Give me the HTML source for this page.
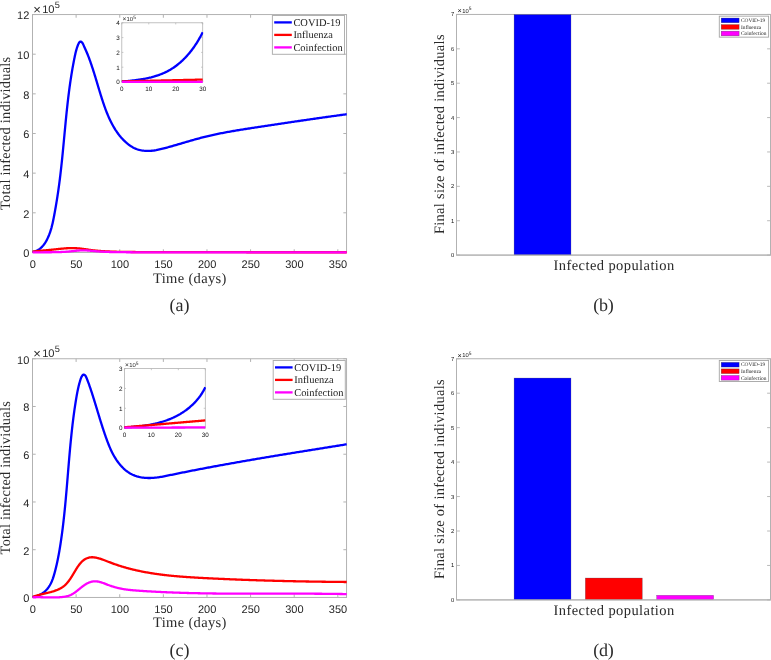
<!DOCTYPE html>
<html lang="en">
<head>
<meta charset="utf-8">
<title>Infected individuals: COVID-19, Influenza, Coinfection</title>
<style>html,body{margin:0;padding:0;background:#fff}body{width:771px;height:660px;overflow:hidden}svg{will-change:transform}svg text{white-space:pre;text-rendering:geometricPrecision}</style>
</head>
<body>
<svg width="771" height="660" viewBox="0 0 771 660" style="display:block">
<rect width="771" height="660" fill="#fff"/>
<rect x="32.5" y="14.55" width="314.05" height="237.9" fill="#fff" stroke="#b2b2b2" stroke-width="1"/>
<line x1="32.5" y1="252.45" x2="32.5" y2="249.25" stroke="#b2b2b2" stroke-width="1"/>
<line x1="32.5" y1="14.55" x2="32.5" y2="17.75" stroke="#b2b2b2" stroke-width="1"/>
<text x="32.7" y="267.75" font-family="'Liberation Sans', 'DejaVu Sans', sans-serif" font-size="11.0" text-anchor="middle" fill="#262626" >0</text>
<line x1="76.12" y1="252.45" x2="76.12" y2="249.25" stroke="#b2b2b2" stroke-width="1"/>
<line x1="76.12" y1="14.55" x2="76.12" y2="17.75" stroke="#b2b2b2" stroke-width="1"/>
<text x="76.32" y="267.75" font-family="'Liberation Sans', 'DejaVu Sans', sans-serif" font-size="11.0" text-anchor="middle" fill="#262626" >50</text>
<line x1="119.74" y1="252.45" x2="119.74" y2="249.25" stroke="#b2b2b2" stroke-width="1"/>
<line x1="119.74" y1="14.55" x2="119.74" y2="17.75" stroke="#b2b2b2" stroke-width="1"/>
<text x="119.94" y="267.75" font-family="'Liberation Sans', 'DejaVu Sans', sans-serif" font-size="11.0" text-anchor="middle" fill="#262626" >100</text>
<line x1="163.35" y1="252.45" x2="163.35" y2="249.25" stroke="#b2b2b2" stroke-width="1"/>
<line x1="163.35" y1="14.55" x2="163.35" y2="17.75" stroke="#b2b2b2" stroke-width="1"/>
<text x="163.55" y="267.75" font-family="'Liberation Sans', 'DejaVu Sans', sans-serif" font-size="11.0" text-anchor="middle" fill="#262626" >150</text>
<line x1="206.97" y1="252.45" x2="206.97" y2="249.25" stroke="#b2b2b2" stroke-width="1"/>
<line x1="206.97" y1="14.55" x2="206.97" y2="17.75" stroke="#b2b2b2" stroke-width="1"/>
<text x="207.17" y="267.75" font-family="'Liberation Sans', 'DejaVu Sans', sans-serif" font-size="11.0" text-anchor="middle" fill="#262626" >200</text>
<line x1="250.59" y1="252.45" x2="250.59" y2="249.25" stroke="#b2b2b2" stroke-width="1"/>
<line x1="250.59" y1="14.55" x2="250.59" y2="17.75" stroke="#b2b2b2" stroke-width="1"/>
<text x="250.79" y="267.75" font-family="'Liberation Sans', 'DejaVu Sans', sans-serif" font-size="11.0" text-anchor="middle" fill="#262626" >250</text>
<line x1="294.21" y1="252.45" x2="294.21" y2="249.25" stroke="#b2b2b2" stroke-width="1"/>
<line x1="294.21" y1="14.55" x2="294.21" y2="17.75" stroke="#b2b2b2" stroke-width="1"/>
<text x="294.41" y="267.75" font-family="'Liberation Sans', 'DejaVu Sans', sans-serif" font-size="11.0" text-anchor="middle" fill="#262626" >300</text>
<line x1="337.83" y1="252.45" x2="337.83" y2="249.25" stroke="#b2b2b2" stroke-width="1"/>
<line x1="337.83" y1="14.55" x2="337.83" y2="17.75" stroke="#b2b2b2" stroke-width="1"/>
<text x="338.03" y="267.75" font-family="'Liberation Sans', 'DejaVu Sans', sans-serif" font-size="11.0" text-anchor="middle" fill="#262626" >350</text>
<line x1="32.5" y1="252.45" x2="35.7" y2="252.45" stroke="#b2b2b2" stroke-width="1"/>
<line x1="346.55" y1="252.45" x2="343.35" y2="252.45" stroke="#b2b2b2" stroke-width="1"/>
<text x="29.3" y="257.35" font-family="'Liberation Sans', 'DejaVu Sans', sans-serif" font-size="11.0" text-anchor="end" fill="#262626" >0</text>
<line x1="32.5" y1="212.8" x2="35.7" y2="212.8" stroke="#b2b2b2" stroke-width="1"/>
<line x1="346.55" y1="212.8" x2="343.35" y2="212.8" stroke="#b2b2b2" stroke-width="1"/>
<text x="29.3" y="217.7" font-family="'Liberation Sans', 'DejaVu Sans', sans-serif" font-size="11.0" text-anchor="end" fill="#262626" >2</text>
<line x1="32.5" y1="173.15" x2="35.7" y2="173.15" stroke="#b2b2b2" stroke-width="1"/>
<line x1="346.55" y1="173.15" x2="343.35" y2="173.15" stroke="#b2b2b2" stroke-width="1"/>
<text x="29.3" y="178.05" font-family="'Liberation Sans', 'DejaVu Sans', sans-serif" font-size="11.0" text-anchor="end" fill="#262626" >4</text>
<line x1="32.5" y1="133.5" x2="35.7" y2="133.5" stroke="#b2b2b2" stroke-width="1"/>
<line x1="346.55" y1="133.5" x2="343.35" y2="133.5" stroke="#b2b2b2" stroke-width="1"/>
<text x="29.3" y="138.4" font-family="'Liberation Sans', 'DejaVu Sans', sans-serif" font-size="11.0" text-anchor="end" fill="#262626" >6</text>
<line x1="32.5" y1="93.85" x2="35.7" y2="93.85" stroke="#b2b2b2" stroke-width="1"/>
<line x1="346.55" y1="93.85" x2="343.35" y2="93.85" stroke="#b2b2b2" stroke-width="1"/>
<text x="29.3" y="98.75" font-family="'Liberation Sans', 'DejaVu Sans', sans-serif" font-size="11.0" text-anchor="end" fill="#262626" >8</text>
<line x1="32.5" y1="54.2" x2="35.7" y2="54.2" stroke="#b2b2b2" stroke-width="1"/>
<line x1="346.55" y1="54.2" x2="343.35" y2="54.2" stroke="#b2b2b2" stroke-width="1"/>
<text x="29.3" y="59.1" font-family="'Liberation Sans', 'DejaVu Sans', sans-serif" font-size="11.0" text-anchor="end" fill="#262626" >10</text>
<line x1="32.5" y1="14.55" x2="35.7" y2="14.55" stroke="#b2b2b2" stroke-width="1"/>
<line x1="346.55" y1="14.55" x2="343.35" y2="14.55" stroke="#b2b2b2" stroke-width="1"/>
<text x="29.3" y="19.45" font-family="'Liberation Sans', 'DejaVu Sans', sans-serif" font-size="11.0" text-anchor="end" fill="#262626" >12</text>
<text x="33.3" y="12.55" font-family="'Liberation Sans', 'DejaVu Sans', sans-serif" font-size="11.1" fill="#262626"><tspan font-size="13" dy="1.0">×</tspan><tspan dx="1.3" dy="-1.0">10</tspan><tspan dy="-4.9" dx="0.3" font-size="9.2">5</tspan></text>
<clipPath id="clipa"><rect x="31.5" y="14.55" width="315.65" height="239.9"/></clipPath>
<g clip-path="url(#clipa)" fill="none" stroke-width="2.3" stroke-linejoin="round" stroke-linecap="butt">
<path d="M32.6 251.9 L33.76 251.68 L34.87 251.38 L35.94 251.01 L36.96 250.56 L37.93 250.04 L38.87 249.47 L39.76 248.83 L40.61 248.14 L41.43 247.4 L42.2 246.61 L42.94 245.77 L43.65 244.9 L44.32 244 L44.96 243.06 L45.57 242.1 L46.15 241.12 L46.7 240.12 L47.23 239.1 L47.73 238.08 L48.2 237.04 L48.65 236 L49.08 234.96 L49.48 233.91 L49.87 232.85 L50.24 231.79 L50.59 230.72 L50.92 229.65 L51.23 228.57 L51.54 227.49 L51.82 226.4 L52.1 225.32 L52.36 224.23 L52.61 223.13 L52.86 222.04 L53.09 220.94 L53.32 219.84 L53.54 218.74 L53.76 217.63 L53.97 216.53 L54.18 215.43 L54.39 214.32 L54.59 213.22 L54.79 212.12 L54.99 211.01 L55.19 209.91 L55.39 208.8 L55.58 207.7 L55.77 206.59 L55.96 205.49 L56.15 204.38 L56.34 203.28 L56.52 202.17 L56.7 201.07 L56.88 199.96 L57.05 198.85 L57.23 197.75 L57.4 196.64 L57.57 195.53 L57.74 194.43 L57.9 193.32 L58.07 192.21 L58.23 191.1 L58.39 189.99 L58.54 188.88 L58.7 187.77 L58.85 186.66 L59 185.55 L59.15 184.44 L59.3 183.33 L59.45 182.21 L59.59 181.1 L59.73 179.99 L59.87 178.88 L60.01 177.76 L60.14 176.65 L60.28 175.53 L60.41 174.42 L60.54 173.3 L60.67 172.19 L60.8 171.07 L60.93 169.96 L61.05 168.84 L61.18 167.72 L61.3 166.61 L61.42 165.49 L61.54 164.37 L61.66 163.25 L61.78 162.13 L61.89 161.02 L62.01 159.9 L62.13 158.78 L62.24 157.66 L62.35 156.54 L62.46 155.42 L62.58 154.3 L62.69 153.18 L62.8 152.06 L62.91 150.94 L63.01 149.82 L63.12 148.7 L63.23 147.58 L63.34 146.46 L63.44 145.34 L63.55 144.22 L63.66 143.1 L63.76 141.98 L63.87 140.86 L63.97 139.74 L64.08 138.62 L64.18 137.5 L64.29 136.38 L64.4 135.25 L64.5 134.13 L64.61 133.01 L64.71 131.89 L64.82 130.77 L64.92 129.65 L65.03 128.53 L65.14 127.41 L65.24 126.29 L65.35 125.17 L65.46 124.05 L65.57 122.93 L65.67 121.81 L65.78 120.69 L65.89 119.57 L66.01 118.45 L66.12 117.33 L66.23 116.21 L66.34 115.09 L66.46 113.98 L66.57 112.86 L66.69 111.74 L66.81 110.62 L66.92 109.5 L67.04 108.39 L67.16 107.27 L67.29 106.15 L67.41 105.04 L67.53 103.92 L67.66 102.8 L67.79 101.69 L67.92 100.57 L68.05 99.46 L68.18 98.34 L68.31 97.23 L68.45 96.11 L68.58 95 L68.72 93.89 L68.86 92.78 L69 91.66 L69.15 90.55 L69.29 89.44 L69.44 88.33 L69.59 87.22 L69.74 86.11 L69.9 85 L70.05 83.89 L70.21 82.78 L70.37 81.67 L70.54 80.57 L70.7 79.46 L70.87 78.35 L71.04 77.25 L71.21 76.14 L71.39 75.04 L71.57 73.93 L71.75 72.83 L71.93 71.72 L72.11 70.62 L72.3 69.52 L72.49 68.42 L72.69 67.32 L72.89 66.22 L73.09 65.12 L73.29 64.02 L73.5 62.92 L73.71 61.83 L73.92 60.73 L74.13 59.63 L74.35 58.54 L74.58 57.45 L74.8 56.35 L75.03 55.26 L75.27 54.17 L75.52 53.08 L75.78 51.99 L76.06 50.9 L76.36 49.82 L76.67 48.73 L77.01 47.65 L77.38 46.57 L77.78 45.49 L78.21 44.42 L78.69 43.37 L79.29 42.44 L80.11 41.73 L81.11 41.68 L81.98 42.35 L82.63 43.27 L83.16 44.32 L83.65 45.37 L84.12 46.4 L84.59 47.42 L85.04 48.42 L85.49 49.42 L85.93 50.43 L86.37 51.44 L86.8 52.46 L87.23 53.5 L87.65 54.54 L88.06 55.59 L88.47 56.64 L88.87 57.7 L89.27 58.77 L89.66 59.83 L90.05 60.9 L90.43 61.98 L90.81 63.05 L91.18 64.12 L91.55 65.19 L91.91 66.26 L92.26 67.33 L92.61 68.4 L92.96 69.47 L93.3 70.53 L93.64 71.6 L93.98 72.67 L94.31 73.73 L94.64 74.8 L94.97 75.86 L95.29 76.93 L95.62 78 L95.94 79.06 L96.26 80.13 L96.58 81.19 L96.9 82.26 L97.22 83.32 L97.54 84.39 L97.85 85.46 L98.17 86.52 L98.49 87.59 L98.81 88.66 L99.13 89.72 L99.45 90.79 L99.78 91.86 L100.11 92.93 L100.43 94 L100.77 95.07 L101.1 96.14 L101.44 97.22 L101.78 98.29 L102.12 99.36 L102.47 100.44 L102.82 101.52 L103.18 102.59 L103.54 103.67 L103.91 104.74 L104.28 105.81 L104.66 106.88 L105.05 107.95 L105.44 109.02 L105.84 110.09 L106.24 111.15 L106.66 112.21 L107.08 113.26 L107.51 114.31 L107.94 115.36 L108.39 116.4 L108.85 117.44 L109.31 118.47 L109.79 119.5 L110.27 120.52 L110.77 121.53 L111.27 122.54 L111.79 123.54 L112.32 124.53 L112.86 125.51 L113.41 126.49 L113.97 127.45 L114.55 128.41 L115.14 129.36 L115.74 130.3 L116.36 131.22 L116.99 132.14 L117.63 133.05 L118.29 133.94 L118.97 134.83 L119.65 135.7 L120.36 136.56 L121.08 137.41 L121.82 138.24 L122.57 139.06 L123.34 139.87 L124.12 140.66 L124.93 141.44 L125.75 142.2 L126.59 142.94 L127.45 143.66 L128.32 144.36 L129.22 145.03 L130.13 145.68 L131.07 146.29 L132.02 146.87 L133 147.42 L133.99 147.94 L135.01 148.41 L136.05 148.85 L137.1 149.24 L138.18 149.59 L139.28 149.89 L140.39 150.16 L141.51 150.38 L142.65 150.57 L143.79 150.71 L144.93 150.82 L146.07 150.9 L147.22 150.94 L148.35 150.94 L149.48 150.91 L150.61 150.85 L151.73 150.76 L152.84 150.65 L153.95 150.51 L155.05 150.34 L156.15 150.16 L157.25 149.95 L158.34 149.73 L159.43 149.49 L160.52 149.24 L161.6 148.98 L162.68 148.7 L163.76 148.42 L164.84 148.13 L165.92 147.84 L167 147.55 L168.08 147.25 L169.16 146.95 L170.24 146.64 L171.31 146.34 L172.39 146.03 L173.47 145.72 L174.55 145.41 L175.62 145.1 L176.7 144.78 L177.78 144.47 L178.85 144.15 L179.93 143.83 L181.01 143.52 L182.09 143.2 L183.16 142.88 L184.24 142.57 L185.32 142.25 L186.4 141.93 L187.48 141.62 L188.56 141.3 L189.64 140.99 L190.72 140.68 L191.8 140.37 L192.88 140.06 L193.96 139.76 L195.04 139.45 L196.12 139.15 L197.21 138.85 L198.29 138.56 L199.38 138.27 L200.46 137.98 L201.55 137.69 L202.63 137.41 L203.72 137.13 L204.81 136.86 L205.9 136.59 L206.99 136.33 L208.08 136.07 L209.18 135.81 L210.27 135.56 L211.37 135.31 L212.46 135.06 L213.56 134.82 L214.65 134.58 L215.75 134.35 L216.85 134.12 L217.95 133.89 L219.05 133.67 L220.15 133.45 L221.25 133.23 L222.35 133.01 L223.45 132.8 L224.56 132.59 L225.66 132.38 L226.76 132.18 L227.87 131.98 L228.97 131.78 L230.08 131.58 L231.19 131.38 L232.29 131.19 L233.4 131 L234.51 130.81 L235.61 130.62 L236.72 130.44 L237.83 130.25 L238.94 130.07 L240.05 129.89 L241.16 129.71 L242.27 129.53 L243.37 129.36 L244.48 129.18 L245.59 129.01 L246.7 128.83 L247.81 128.66 L248.93 128.49 L250.04 128.32 L251.15 128.15 L252.26 127.98 L253.37 127.81 L254.48 127.64 L255.59 127.47 L256.7 127.3 L257.81 127.13 L258.92 126.96 L260.03 126.79 L261.14 126.62 L262.25 126.45 L263.36 126.29 L264.47 126.12 L265.58 125.95 L266.69 125.78 L267.8 125.61 L268.91 125.45 L270.02 125.28 L271.13 125.11 L272.24 124.94 L273.35 124.78 L274.46 124.61 L275.57 124.44 L276.69 124.28 L277.8 124.11 L278.91 123.94 L280.02 123.78 L281.13 123.61 L282.24 123.45 L283.35 123.28 L284.46 123.12 L285.57 122.95 L286.68 122.79 L287.79 122.62 L288.9 122.46 L290.01 122.29 L291.12 122.13 L292.23 121.97 L293.34 121.8 L294.45 121.64 L295.56 121.48 L296.67 121.31 L297.78 121.15 L298.89 120.99 L300 120.83 L301.11 120.66 L302.22 120.5 L303.33 120.34 L304.45 120.18 L305.56 120.02 L306.67 119.86 L307.78 119.7 L308.89 119.54 L310 119.38 L311.11 119.22 L312.22 119.06 L313.33 118.9 L314.44 118.74 L315.56 118.58 L316.67 118.42 L317.78 118.26 L318.89 118.11 L320 117.95 L321.11 117.79 L322.22 117.63 L323.34 117.48 L324.45 117.32 L325.56 117.16 L326.67 117.01 L327.78 116.85 L328.9 116.7 L330.01 116.54 L331.12 116.39 L332.23 116.23 L333.34 116.08 L334.46 115.92 L335.57 115.77 L336.68 115.62 L337.79 115.46 L338.91 115.31 L340.02 115.16 L341.13 115.01 L342.25 114.85 L343.36 114.7 L344.47 114.55 L345.59 114.4 L346.7 114.25" stroke="#0000ff"/>
<path d="M32.6 251.65 L33.23 251.57 L33.86 251.49 L34.49 251.42 L35.12 251.34 L35.75 251.27 L36.38 251.19 L37.01 251.12 L37.64 251.05 L38.27 250.98 L38.89 250.91 L39.52 250.85 L40.15 250.78 L40.78 250.72 L41.41 250.66 L42.04 250.6 L42.67 250.55 L43.3 250.49 L43.93 250.44 L44.56 250.38 L45.19 250.33 L45.82 250.27 L46.45 250.22 L47.08 250.17 L47.71 250.11 L48.34 250.06 L48.97 250 L49.6 249.94 L50.22 249.88 L50.85 249.82 L51.48 249.75 L52.11 249.68 L52.74 249.62 L53.37 249.55 L54 249.48 L54.63 249.41 L55.26 249.34 L55.89 249.27 L56.52 249.2 L57.15 249.13 L57.78 249.07 L58.41 249 L59.04 248.94 L59.67 248.88 L60.3 248.82 L60.93 248.76 L61.56 248.7 L62.18 248.64 L62.81 248.58 L63.44 248.52 L64.07 248.46 L64.7 248.41 L65.33 248.35 L65.96 248.31 L66.59 248.27 L67.22 248.23 L67.85 248.21 L68.48 248.18 L69.11 248.16 L69.74 248.15 L70.37 248.13 L71 248.11 L71.63 248.11 L72.26 248.1 L72.89 248.1 L73.51 248.11 L74.14 248.13 L74.77 248.16 L75.4 248.19 L76.03 248.22 L76.66 248.26 L77.29 248.3 L77.92 248.34 L78.55 248.39 L79.18 248.45 L79.81 248.51 L80.44 248.59 L81.07 248.66 L81.7 248.75 L82.33 248.84 L82.96 248.92 L83.59 249.01 L84.22 249.1 L84.85 249.18 L85.47 249.26 L86.1 249.34 L86.73 249.43 L87.36 249.51 L87.99 249.6 L88.62 249.69 L89.25 249.78 L89.88 249.87 L90.51 249.95 L91.14 250.04 L91.77 250.12 L92.4 250.2 L93.03 250.28 L93.66 250.36 L94.29 250.43 L94.92 250.49 L95.55 250.55 L96.18 250.61 L96.8 250.68 L97.43 250.73 L98.06 250.79 L98.69 250.85 L99.32 250.9 L99.95 250.96 L100.58 251.01 L101.21 251.06 L101.84 251.1 L102.47 251.15 L103.1 251.19 L103.73 251.23 L104.36 251.27 L104.99 251.3 L105.62 251.33 L106.25 251.36 L106.88 251.39 L107.51 251.43 L108.14 251.46 L108.76 251.49 L109.39 251.51 L110.02 251.54 L110.65 251.57 L111.28 251.6 L111.91 251.62 L112.54 251.65 L113.17 251.67 L113.8 251.69 L114.43 251.72 L115.06 251.74 L115.69 251.76 L116.32 251.77 L116.95 251.79 L117.58 251.8 L118.21 251.82 L118.84 251.83 L119.47 251.84 L120.09 251.85 L120.72 251.86 L121.35 251.87 L121.98 251.88 L122.61 251.89 L123.24 251.89 L123.87 251.9 L124.5 251.91 L125.13 251.92 L125.76 251.92 L126.39 251.93 L127.02 251.94 L127.65 251.95 L128.28 251.95 L128.91 251.96 L129.54 251.97 L130.17 251.97 L130.8 251.98 L131.43 251.99 L132.05 251.99 L132.68 252 L133.31 252.01 L133.94 252.01 L134.57 252.02 L135.2 252.02 L135.83 252.03 L136.46 252.03 L137.09 252.04 L137.72 252.05 L138.35 252.05 L138.98 252.06 L139.61 252.06 L140.24 252.06 L140.87 252.07 L141.5 252.07 L142.13 252.08 L142.76 252.08 L143.38 252.09 L144.01 252.09 L144.64 252.09 L145.27 252.1 L145.9 252.1 L146.53 252.11 L147.16 252.11 L147.79 252.11 L148.42 252.11 L149.05 252.12 L149.68 252.12 L150.31 252.12 L150.94 252.13 L151.57 252.13 L152.2 252.13 L152.83 252.13 L153.46 252.14 L154.09 252.14 L154.72 252.14 L155.34 252.14 L155.97 252.14 L156.6 252.14 L157.23 252.15 L157.86 252.15 L158.49 252.15 L159.12 252.15 L159.75 252.15 L160.38 252.15 L161.01 252.15 L161.64 252.15 L162.27 252.15 L162.9 252.15 L163.53 252.15 L164.16 252.16 L164.79 252.16 L165.42 252.16 L166.05 252.16 L166.67 252.16 L167.3 252.16 L167.93 252.16 L168.56 252.16 L169.19 252.16 L169.82 252.16 L170.45 252.16 L171.08 252.16 L171.71 252.16 L172.34 252.16 L172.97 252.17 L173.6 252.17 L174.23 252.17 L174.86 252.17 L175.49 252.17 L176.12 252.17 L176.75 252.17 L177.38 252.17 L178.01 252.17 L178.63 252.17 L179.26 252.17 L179.89 252.17 L180.52 252.17 L181.15 252.17 L181.78 252.17 L182.41 252.18 L183.04 252.18 L183.67 252.18 L184.3 252.18 L184.93 252.18 L185.56 252.18 L186.19 252.18 L186.82 252.18 L187.45 252.18 L188.08 252.18 L188.71 252.18 L189.34 252.18 L189.96 252.18 L190.59 252.18 L191.22 252.18 L191.85 252.18 L192.48 252.19 L193.11 252.19 L193.74 252.19 L194.37 252.19 L195 252.19 L195.63 252.19 L196.26 252.19 L196.89 252.19 L197.52 252.19 L198.15 252.19 L198.78 252.19 L199.41 252.19 L200.04 252.19 L200.67 252.19 L201.29 252.19 L201.92 252.19 L202.55 252.19 L203.18 252.19 L203.81 252.2 L204.44 252.2 L205.07 252.2 L205.7 252.2 L206.33 252.2 L206.96 252.2 L207.59 252.2 L208.22 252.2 L208.85 252.2 L209.48 252.2 L210.11 252.2 L210.74 252.2 L211.37 252.2 L212 252.2 L212.63 252.2 L213.25 252.2 L213.88 252.2 L214.51 252.2 L215.14 252.2 L215.77 252.21 L216.4 252.21 L217.03 252.21 L217.66 252.21 L218.29 252.21 L218.92 252.21 L219.55 252.21 L220.18 252.21 L220.81 252.21 L221.44 252.21 L222.07 252.21 L222.7 252.21 L223.33 252.21 L223.96 252.21 L224.58 252.21 L225.21 252.21 L225.84 252.21 L226.47 252.21 L227.1 252.21 L227.73 252.21 L228.36 252.21 L228.99 252.21 L229.62 252.22 L230.25 252.22 L230.88 252.22 L231.51 252.22 L232.14 252.22 L232.77 252.22 L233.4 252.22 L234.03 252.22 L234.66 252.22 L235.29 252.22 L235.92 252.22 L236.54 252.22 L237.17 252.22 L237.8 252.22 L238.43 252.22 L239.06 252.22 L239.69 252.22 L240.32 252.22 L240.95 252.22 L241.58 252.22 L242.21 252.22 L242.84 252.22 L243.47 252.22 L244.1 252.22 L244.73 252.22 L245.36 252.22 L245.99 252.22 L246.62 252.23 L247.25 252.23 L247.87 252.23 L248.5 252.23 L249.13 252.23 L249.76 252.23 L250.39 252.23 L251.02 252.23 L251.65 252.23 L252.28 252.23 L252.91 252.23 L253.54 252.23 L254.17 252.23 L254.8 252.23 L255.43 252.23 L256.06 252.23 L256.69 252.23 L257.32 252.23 L257.95 252.23 L258.58 252.23 L259.21 252.23 L259.83 252.23 L260.46 252.23 L261.09 252.23 L261.72 252.23 L262.35 252.23 L262.98 252.23 L263.61 252.23 L264.24 252.23 L264.87 252.23 L265.5 252.23 L266.13 252.23 L266.76 252.23 L267.39 252.24 L268.02 252.24 L268.65 252.24 L269.28 252.24 L269.91 252.24 L270.54 252.24 L271.16 252.24 L271.79 252.24 L272.42 252.24 L273.05 252.24 L273.68 252.24 L274.31 252.24 L274.94 252.24 L275.57 252.24 L276.2 252.24 L276.83 252.24 L277.46 252.24 L278.09 252.24 L278.72 252.24 L279.35 252.24 L279.98 252.24 L280.61 252.24 L281.24 252.24 L281.87 252.24 L282.5 252.24 L283.12 252.24 L283.75 252.24 L284.38 252.24 L285.01 252.24 L285.64 252.24 L286.27 252.24 L286.9 252.24 L287.53 252.24 L288.16 252.24 L288.79 252.24 L289.42 252.24 L290.05 252.24 L290.68 252.24 L291.31 252.24 L291.94 252.24 L292.57 252.24 L293.2 252.24 L293.83 252.24 L294.45 252.24 L295.08 252.24 L295.71 252.24 L296.34 252.24 L296.97 252.24 L297.6 252.24 L298.23 252.24 L298.86 252.24 L299.49 252.25 L300.12 252.25 L300.75 252.25 L301.38 252.25 L302.01 252.25 L302.64 252.25 L303.27 252.25 L303.9 252.25 L304.53 252.25 L305.16 252.25 L305.79 252.25 L306.41 252.25 L307.04 252.25 L307.67 252.25 L308.3 252.25 L308.93 252.25 L309.56 252.25 L310.19 252.25 L310.82 252.25 L311.45 252.25 L312.08 252.25 L312.71 252.25 L313.34 252.25 L313.97 252.25 L314.6 252.25 L315.23 252.25 L315.86 252.25 L316.49 252.25 L317.12 252.25 L317.74 252.25 L318.37 252.25 L319 252.25 L319.63 252.25 L320.26 252.25 L320.89 252.25 L321.52 252.25 L322.15 252.25 L322.78 252.25 L323.41 252.25 L324.04 252.25 L324.67 252.25 L325.3 252.25 L325.93 252.25 L326.56 252.25 L327.19 252.25 L327.82 252.25 L328.45 252.25 L329.08 252.25 L329.7 252.25 L330.33 252.25 L330.96 252.25 L331.59 252.25 L332.22 252.25 L332.85 252.25 L333.48 252.25 L334.11 252.25 L334.74 252.25 L335.37 252.25 L336 252.25 L336.63 252.25 L337.26 252.25 L337.89 252.25 L338.52 252.25 L339.15 252.25 L339.78 252.25 L340.41 252.25 L341.03 252.25 L341.66 252.25 L342.29 252.25 L342.92 252.25 L343.55 252.25 L344.18 252.25 L344.81 252.25 L345.44 252.25 L346.07 252.25 L346.7 252.25" stroke="#ff0000"/>
<path d="M32.6 252.3 L33.23 252.3 L33.86 252.3 L34.49 252.3 L35.12 252.3 L35.75 252.3 L36.38 252.3 L37.01 252.3 L37.64 252.29 L38.27 252.29 L38.89 252.29 L39.52 252.29 L40.15 252.29 L40.78 252.29 L41.41 252.28 L42.04 252.28 L42.67 252.28 L43.3 252.28 L43.93 252.27 L44.56 252.27 L45.19 252.27 L45.82 252.27 L46.45 252.26 L47.08 252.26 L47.71 252.25 L48.34 252.25 L48.97 252.25 L49.6 252.24 L50.22 252.24 L50.85 252.23 L51.48 252.23 L52.11 252.22 L52.74 252.22 L53.37 252.21 L54 252.21 L54.63 252.2 L55.26 252.2 L55.89 252.19 L56.52 252.18 L57.15 252.16 L57.78 252.14 L58.41 252.12 L59.04 252.1 L59.67 252.07 L60.3 252.05 L60.93 252.02 L61.56 251.99 L62.18 251.95 L62.81 251.92 L63.44 251.89 L64.07 251.85 L64.7 251.82 L65.33 251.78 L65.96 251.74 L66.59 251.69 L67.22 251.64 L67.85 251.59 L68.48 251.53 L69.11 251.48 L69.74 251.42 L70.37 251.36 L71 251.29 L71.63 251.23 L72.26 251.18 L72.89 251.11 L73.51 251.05 L74.14 250.98 L74.77 250.91 L75.4 250.84 L76.03 250.78 L76.66 250.71 L77.29 250.66 L77.92 250.61 L78.55 250.56 L79.18 250.51 L79.81 250.46 L80.44 250.41 L81.07 250.37 L81.7 250.33 L82.33 250.31 L82.96 250.3 L83.59 250.3 L84.22 250.32 L84.85 250.34 L85.47 250.38 L86.1 250.41 L86.73 250.46 L87.36 250.5 L87.99 250.55 L88.62 250.6 L89.25 250.65 L89.88 250.69 L90.51 250.74 L91.14 250.79 L91.77 250.84 L92.4 250.9 L93.03 250.96 L93.66 251.02 L94.29 251.08 L94.92 251.14 L95.55 251.2 L96.18 251.26 L96.8 251.31 L97.43 251.36 L98.06 251.4 L98.69 251.44 L99.32 251.49 L99.95 251.53 L100.58 251.57 L101.21 251.61 L101.84 251.64 L102.47 251.68 L103.1 251.72 L103.73 251.75 L104.36 251.79 L104.99 251.82 L105.62 251.85 L106.25 251.88 L106.88 251.91 L107.51 251.93 L108.14 251.95 L108.76 251.97 L109.39 251.99 L110.02 252 L110.65 252.01 L111.28 252.02 L111.91 252.03 L112.54 252.05 L113.17 252.06 L113.8 252.07 L114.43 252.08 L115.06 252.09 L115.69 252.1 L116.32 252.11 L116.95 252.12 L117.58 252.12 L118.21 252.13 L118.84 252.14 L119.47 252.15 L120.09 252.16 L120.72 252.17 L121.35 252.18 L121.98 252.18 L122.61 252.19 L123.24 252.2 L123.87 252.2 L124.5 252.21 L125.13 252.22 L125.76 252.22 L126.39 252.23 L127.02 252.24 L127.65 252.24 L128.28 252.25 L128.91 252.25 L129.54 252.26 L130.17 252.26 L130.8 252.27 L131.43 252.27 L132.05 252.27 L132.68 252.28 L133.31 252.28 L133.94 252.28 L134.57 252.29 L135.2 252.29 L135.83 252.29 L136.46 252.29 L137.09 252.3 L137.72 252.3 L138.35 252.3 L138.98 252.3 L139.61 252.3 L140.24 252.3 L140.87 252.3 L141.5 252.3 L142.13 252.3 L142.76 252.3 L143.38 252.3 L144.01 252.3 L144.64 252.3 L145.27 252.3 L145.9 252.3 L146.53 252.3 L147.16 252.3 L147.79 252.3 L148.42 252.31 L149.05 252.31 L149.68 252.31 L150.31 252.31 L150.94 252.31 L151.57 252.31 L152.2 252.31 L152.83 252.31 L153.46 252.31 L154.09 252.31 L154.72 252.31 L155.34 252.31 L155.97 252.31 L156.6 252.31 L157.23 252.31 L157.86 252.31 L158.49 252.31 L159.12 252.31 L159.75 252.31 L160.38 252.31 L161.01 252.31 L161.64 252.31 L162.27 252.31 L162.9 252.31 L163.53 252.31 L164.16 252.31 L164.79 252.31 L165.42 252.31 L166.05 252.31 L166.67 252.31 L167.3 252.32 L167.93 252.32 L168.56 252.32 L169.19 252.32 L169.82 252.32 L170.45 252.32 L171.08 252.32 L171.71 252.32 L172.34 252.32 L172.97 252.32 L173.6 252.32 L174.23 252.32 L174.86 252.32 L175.49 252.32 L176.12 252.32 L176.75 252.32 L177.38 252.32 L178.01 252.32 L178.63 252.32 L179.26 252.32 L179.89 252.32 L180.52 252.32 L181.15 252.32 L181.78 252.32 L182.41 252.32 L183.04 252.32 L183.67 252.32 L184.3 252.32 L184.93 252.32 L185.56 252.32 L186.19 252.32 L186.82 252.32 L187.45 252.32 L188.08 252.32 L188.71 252.32 L189.34 252.32 L189.96 252.33 L190.59 252.33 L191.22 252.33 L191.85 252.33 L192.48 252.33 L193.11 252.33 L193.74 252.33 L194.37 252.33 L195 252.33 L195.63 252.33 L196.26 252.33 L196.89 252.33 L197.52 252.33 L198.15 252.33 L198.78 252.33 L199.41 252.33 L200.04 252.33 L200.67 252.33 L201.29 252.33 L201.92 252.33 L202.55 252.33 L203.18 252.33 L203.81 252.33 L204.44 252.33 L205.07 252.33 L205.7 252.33 L206.33 252.33 L206.96 252.33 L207.59 252.33 L208.22 252.33 L208.85 252.33 L209.48 252.33 L210.11 252.33 L210.74 252.33 L211.37 252.33 L212 252.33 L212.63 252.33 L213.25 252.33 L213.88 252.33 L214.51 252.33 L215.14 252.33 L215.77 252.33 L216.4 252.33 L217.03 252.33 L217.66 252.33 L218.29 252.33 L218.92 252.33 L219.55 252.34 L220.18 252.34 L220.81 252.34 L221.44 252.34 L222.07 252.34 L222.7 252.34 L223.33 252.34 L223.96 252.34 L224.58 252.34 L225.21 252.34 L225.84 252.34 L226.47 252.34 L227.1 252.34 L227.73 252.34 L228.36 252.34 L228.99 252.34 L229.62 252.34 L230.25 252.34 L230.88 252.34 L231.51 252.34 L232.14 252.34 L232.77 252.34 L233.4 252.34 L234.03 252.34 L234.66 252.34 L235.29 252.34 L235.92 252.34 L236.54 252.34 L237.17 252.34 L237.8 252.34 L238.43 252.34 L239.06 252.34 L239.69 252.34 L240.32 252.34 L240.95 252.34 L241.58 252.34 L242.21 252.34 L242.84 252.34 L243.47 252.34 L244.1 252.34 L244.73 252.34 L245.36 252.34 L245.99 252.34 L246.62 252.34 L247.25 252.34 L247.87 252.34 L248.5 252.34 L249.13 252.34 L249.76 252.34 L250.39 252.34 L251.02 252.34 L251.65 252.34 L252.28 252.34 L252.91 252.34 L253.54 252.34 L254.17 252.34 L254.8 252.34 L255.43 252.34 L256.06 252.34 L256.69 252.34 L257.32 252.34 L257.95 252.34 L258.58 252.34 L259.21 252.34 L259.83 252.34 L260.46 252.34 L261.09 252.34 L261.72 252.34 L262.35 252.34 L262.98 252.34 L263.61 252.34 L264.24 252.34 L264.87 252.34 L265.5 252.34 L266.13 252.34 L266.76 252.35 L267.39 252.35 L268.02 252.35 L268.65 252.35 L269.28 252.35 L269.91 252.35 L270.54 252.35 L271.16 252.35 L271.79 252.35 L272.42 252.35 L273.05 252.35 L273.68 252.35 L274.31 252.35 L274.94 252.35 L275.57 252.35 L276.2 252.35 L276.83 252.35 L277.46 252.35 L278.09 252.35 L278.72 252.35 L279.35 252.35 L279.98 252.35 L280.61 252.35 L281.24 252.35 L281.87 252.35 L282.5 252.35 L283.12 252.35 L283.75 252.35 L284.38 252.35 L285.01 252.35 L285.64 252.35 L286.27 252.35 L286.9 252.35 L287.53 252.35 L288.16 252.35 L288.79 252.35 L289.42 252.35 L290.05 252.35 L290.68 252.35 L291.31 252.35 L291.94 252.35 L292.57 252.35 L293.2 252.35 L293.83 252.35 L294.45 252.35 L295.08 252.35 L295.71 252.35 L296.34 252.35 L296.97 252.35 L297.6 252.35 L298.23 252.35 L298.86 252.35 L299.49 252.35 L300.12 252.35 L300.75 252.35 L301.38 252.35 L302.01 252.35 L302.64 252.35 L303.27 252.35 L303.9 252.35 L304.53 252.35 L305.16 252.35 L305.79 252.35 L306.41 252.35 L307.04 252.35 L307.67 252.35 L308.3 252.35 L308.93 252.35 L309.56 252.35 L310.19 252.35 L310.82 252.35 L311.45 252.35 L312.08 252.35 L312.71 252.35 L313.34 252.35 L313.97 252.35 L314.6 252.35 L315.23 252.35 L315.86 252.35 L316.49 252.35 L317.12 252.35 L317.74 252.35 L318.37 252.35 L319 252.35 L319.63 252.35 L320.26 252.35 L320.89 252.35 L321.52 252.35 L322.15 252.35 L322.78 252.35 L323.41 252.35 L324.04 252.35 L324.67 252.35 L325.3 252.35 L325.93 252.35 L326.56 252.35 L327.19 252.35 L327.82 252.35 L328.45 252.35 L329.08 252.35 L329.7 252.35 L330.33 252.35 L330.96 252.35 L331.59 252.35 L332.22 252.35 L332.85 252.35 L333.48 252.35 L334.11 252.35 L334.74 252.35 L335.37 252.35 L336 252.35 L336.63 252.35 L337.26 252.35 L337.89 252.35 L338.52 252.35 L339.15 252.35 L339.78 252.35 L340.41 252.35 L341.03 252.35 L341.66 252.35 L342.29 252.35 L342.92 252.35 L343.55 252.35 L344.18 252.35 L344.81 252.35 L345.44 252.35 L346.07 252.35 L346.7 252.35" stroke="#ff00ff"/>
</g>
<rect x="121.8" y="22.8" width="80.9" height="59.2" fill="#fff" stroke="#b2b2b2" stroke-width="0.8"/>
<line x1="121.8" y1="82" x2="121.8" y2="80.4" stroke="#b2b2b2" stroke-width="0.7"/>
<line x1="121.8" y1="22.8" x2="121.8" y2="24.4" stroke="#b2b2b2" stroke-width="0.7"/>
<text x="121.8" y="90.5" font-family="'Liberation Sans', 'DejaVu Sans', sans-serif" font-size="6.3" text-anchor="middle" fill="#111" >0</text>
<line x1="148.77" y1="82" x2="148.77" y2="80.4" stroke="#b2b2b2" stroke-width="0.7"/>
<line x1="148.77" y1="22.8" x2="148.77" y2="24.4" stroke="#b2b2b2" stroke-width="0.7"/>
<text x="148.77" y="90.5" font-family="'Liberation Sans', 'DejaVu Sans', sans-serif" font-size="6.3" text-anchor="middle" fill="#111" >10</text>
<line x1="175.73" y1="82" x2="175.73" y2="80.4" stroke="#b2b2b2" stroke-width="0.7"/>
<line x1="175.73" y1="22.8" x2="175.73" y2="24.4" stroke="#b2b2b2" stroke-width="0.7"/>
<text x="175.73" y="90.5" font-family="'Liberation Sans', 'DejaVu Sans', sans-serif" font-size="6.3" text-anchor="middle" fill="#111" >20</text>
<line x1="202.7" y1="82" x2="202.7" y2="80.4" stroke="#b2b2b2" stroke-width="0.7"/>
<line x1="202.7" y1="22.8" x2="202.7" y2="24.4" stroke="#b2b2b2" stroke-width="0.7"/>
<text x="202.7" y="90.5" font-family="'Liberation Sans', 'DejaVu Sans', sans-serif" font-size="6.3" text-anchor="middle" fill="#111" >30</text>
<line x1="121.8" y1="82" x2="123.4" y2="82" stroke="#b2b2b2" stroke-width="0.7"/>
<line x1="202.7" y1="82" x2="201.1" y2="82" stroke="#b2b2b2" stroke-width="0.7"/>
<text x="119.8" y="84.3" font-family="'Liberation Sans', 'DejaVu Sans', sans-serif" font-size="6.3" text-anchor="end" fill="#111" >0</text>
<line x1="121.8" y1="67.2" x2="123.4" y2="67.2" stroke="#b2b2b2" stroke-width="0.7"/>
<line x1="202.7" y1="67.2" x2="201.1" y2="67.2" stroke="#b2b2b2" stroke-width="0.7"/>
<text x="119.8" y="69.5" font-family="'Liberation Sans', 'DejaVu Sans', sans-serif" font-size="6.3" text-anchor="end" fill="#111" >1</text>
<line x1="121.8" y1="52.4" x2="123.4" y2="52.4" stroke="#b2b2b2" stroke-width="0.7"/>
<line x1="202.7" y1="52.4" x2="201.1" y2="52.4" stroke="#b2b2b2" stroke-width="0.7"/>
<text x="119.8" y="54.7" font-family="'Liberation Sans', 'DejaVu Sans', sans-serif" font-size="6.3" text-anchor="end" fill="#111" >2</text>
<line x1="121.8" y1="37.6" x2="123.4" y2="37.6" stroke="#b2b2b2" stroke-width="0.7"/>
<line x1="202.7" y1="37.6" x2="201.1" y2="37.6" stroke="#b2b2b2" stroke-width="0.7"/>
<text x="119.8" y="39.9" font-family="'Liberation Sans', 'DejaVu Sans', sans-serif" font-size="6.3" text-anchor="end" fill="#111" >3</text>
<line x1="121.8" y1="22.8" x2="123.4" y2="22.8" stroke="#b2b2b2" stroke-width="0.7"/>
<line x1="202.7" y1="22.8" x2="201.1" y2="22.8" stroke="#b2b2b2" stroke-width="0.7"/>
<text x="119.8" y="25.1" font-family="'Liberation Sans', 'DejaVu Sans', sans-serif" font-size="6.3" text-anchor="end" fill="#111" >4</text>
<text x="122.5" y="21.3" font-family="'Liberation Sans', 'DejaVu Sans', sans-serif" font-size="5.9" fill="#262626"><tspan font-size="6.6">×</tspan><tspan dx="0.2">10</tspan><tspan dy="-2.5" dx="0.1" font-size="4.9">5</tspan></text>
<clipPath id="iclipa"><rect x="121.5" y="22.8" width="81.8" height="60.7"/></clipPath>
<g clip-path="url(#iclipa)" fill="none" stroke-width="2.3" stroke-linejoin="round">
<path d="M121.8 81.5 L122.62 81.44 L123.44 81.37 L124.26 81.31 L125.09 81.24 L125.92 81.17 L126.75 81.1 L127.59 81.02 L128.42 80.94 L129.26 80.86 L130.1 80.78 L130.94 80.69 L131.78 80.6 L132.63 80.51 L133.47 80.42 L134.32 80.32 L135.16 80.21 L136.01 80.11 L136.86 79.99 L137.7 79.88 L138.55 79.76 L139.4 79.63 L140.24 79.5 L141.09 79.37 L141.94 79.23 L142.78 79.08 L143.63 78.93 L144.47 78.78 L145.31 78.61 L146.15 78.45 L146.99 78.27 L147.83 78.09 L148.67 77.91 L149.5 77.71 L150.33 77.51 L151.16 77.31 L151.99 77.09 L152.81 76.87 L153.63 76.65 L154.45 76.41 L155.26 76.17 L156.08 75.92 L156.88 75.66 L157.69 75.39 L158.49 75.12 L159.29 74.83 L160.08 74.54 L160.87 74.24 L161.65 73.93 L162.43 73.62 L163.2 73.29 L163.97 72.95 L164.74 72.6 L165.49 72.25 L166.25 71.88 L167 71.51 L167.74 71.12 L168.47 70.73 L169.2 70.32 L169.93 69.9 L170.65 69.48 L171.36 69.04 L172.07 68.6 L172.77 68.15 L173.46 67.68 L174.15 67.21 L174.84 66.73 L175.52 66.24 L176.19 65.75 L176.85 65.24 L177.51 64.73 L178.17 64.2 L178.82 63.67 L179.46 63.13 L180.1 62.59 L180.73 62.04 L181.36 61.47 L181.98 60.91 L182.59 60.33 L183.2 59.75 L183.8 59.16 L184.4 58.56 L184.99 57.96 L185.57 57.35 L186.15 56.73 L186.72 56.11 L187.29 55.48 L187.85 54.85 L188.41 54.21 L188.96 53.56 L189.5 52.91 L190.04 52.25 L190.57 51.59 L191.09 50.92 L191.61 50.25 L192.13 49.57 L192.64 48.89 L193.14 48.21 L193.64 47.51 L194.13 46.82 L194.61 46.12 L195.09 45.42 L195.56 44.71 L196.03 44 L196.49 43.28 L196.95 42.56 L197.4 41.84 L197.84 41.11 L198.28 40.39 L198.71 39.65 L199.13 38.92 L199.55 38.18 L199.97 37.44 L200.38 36.7 L200.78 35.95 L201.17 35.21 L201.56 34.46 L201.95 33.71 L202.33 32.95 L202.7 32.2" stroke="#0000ff"/>
<path d="M121.8 81.4 L122.48 81.38 L123.16 81.37 L123.84 81.35 L124.52 81.34 L125.2 81.32 L125.88 81.31 L126.56 81.29 L127.24 81.28 L127.92 81.26 L128.6 81.25 L129.28 81.23 L129.96 81.22 L130.64 81.2 L131.32 81.19 L132 81.17 L132.68 81.16 L133.36 81.14 L134.04 81.13 L134.72 81.11 L135.4 81.1 L136.08 81.08 L136.76 81.07 L137.44 81.05 L138.12 81.04 L138.8 81.02 L139.48 81.01 L140.16 80.99 L140.84 80.98 L141.52 80.96 L142.19 80.95 L142.87 80.93 L143.55 80.92 L144.23 80.9 L144.91 80.89 L145.59 80.87 L146.27 80.86 L146.95 80.84 L147.63 80.83 L148.31 80.81 L148.99 80.79 L149.67 80.78 L150.35 80.76 L151.03 80.75 L151.71 80.73 L152.39 80.72 L153.07 80.7 L153.75 80.69 L154.43 80.67 L155.11 80.66 L155.79 80.64 L156.47 80.63 L157.15 80.61 L157.83 80.6 L158.51 80.58 L159.19 80.57 L159.87 80.55 L160.55 80.54 L161.23 80.52 L161.91 80.51 L162.59 80.49 L163.27 80.48 L163.95 80.46 L164.63 80.45 L165.31 80.43 L165.99 80.42 L166.67 80.4 L167.35 80.39 L168.03 80.37 L168.71 80.36 L169.39 80.34 L170.07 80.33 L170.75 80.31 L171.43 80.3 L172.11 80.28 L172.79 80.27 L173.47 80.25 L174.15 80.24 L174.83 80.22 L175.51 80.21 L176.19 80.19 L176.87 80.17 L177.55 80.16 L178.23 80.14 L178.91 80.13 L179.59 80.11 L180.27 80.1 L180.95 80.08 L181.63 80.07 L182.31 80.05 L182.98 80.04 L183.66 80.02 L184.34 80.01 L185.02 79.99 L185.7 79.98 L186.38 79.96 L187.06 79.95 L187.74 79.93 L188.42 79.92 L189.1 79.9 L189.78 79.89 L190.46 79.87 L191.14 79.86 L191.82 79.84 L192.5 79.83 L193.18 79.81 L193.86 79.8 L194.54 79.78 L195.22 79.77 L195.9 79.75 L196.58 79.74 L197.26 79.72 L197.94 79.71 L198.62 79.69 L199.3 79.68 L199.98 79.66 L200.66 79.65 L201.34 79.63 L202.02 79.62 L202.7 79.6" stroke="#ff0000"/>
<path d="M121.8 81.9 L122.48 81.9 L123.16 81.9 L123.84 81.9 L124.52 81.9 L125.2 81.9 L125.88 81.89 L126.56 81.89 L127.24 81.89 L127.92 81.89 L128.6 81.89 L129.28 81.89 L129.96 81.89 L130.64 81.89 L131.32 81.89 L132 81.89 L132.68 81.89 L133.36 81.89 L134.04 81.88 L134.72 81.88 L135.4 81.88 L136.08 81.88 L136.76 81.88 L137.44 81.88 L138.12 81.88 L138.8 81.88 L139.48 81.88 L140.16 81.88 L140.84 81.88 L141.52 81.88 L142.19 81.87 L142.87 81.87 L143.55 81.87 L144.23 81.87 L144.91 81.87 L145.59 81.87 L146.27 81.87 L146.95 81.87 L147.63 81.87 L148.31 81.87 L148.99 81.87 L149.67 81.87 L150.35 81.86 L151.03 81.86 L151.71 81.86 L152.39 81.86 L153.07 81.86 L153.75 81.86 L154.43 81.86 L155.11 81.86 L155.79 81.86 L156.47 81.86 L157.15 81.86 L157.83 81.86 L158.51 81.85 L159.19 81.85 L159.87 81.85 L160.55 81.85 L161.23 81.85 L161.91 81.85 L162.59 81.85 L163.27 81.85 L163.95 81.85 L164.63 81.85 L165.31 81.85 L165.99 81.85 L166.67 81.84 L167.35 81.84 L168.03 81.84 L168.71 81.84 L169.39 81.84 L170.07 81.84 L170.75 81.84 L171.43 81.84 L172.11 81.84 L172.79 81.84 L173.47 81.84 L174.15 81.84 L174.83 81.83 L175.51 81.83 L176.19 81.83 L176.87 81.83 L177.55 81.83 L178.23 81.83 L178.91 81.83 L179.59 81.83 L180.27 81.83 L180.95 81.83 L181.63 81.83 L182.31 81.83 L182.98 81.82 L183.66 81.82 L184.34 81.82 L185.02 81.82 L185.7 81.82 L186.38 81.82 L187.06 81.82 L187.74 81.82 L188.42 81.82 L189.1 81.82 L189.78 81.82 L190.46 81.82 L191.14 81.81 L191.82 81.81 L192.5 81.81 L193.18 81.81 L193.86 81.81 L194.54 81.81 L195.22 81.81 L195.9 81.81 L196.58 81.81 L197.26 81.81 L197.94 81.81 L198.62 81.81 L199.3 81.8 L199.98 81.8 L200.66 81.8 L201.34 81.8 L202.02 81.8 L202.7 81.8" stroke="#ff00ff"/>
</g>
<rect x="272.4" y="15.5" width="72.1" height="38.8" fill="#fff" stroke="#b0b0b0" stroke-width="1"/>
<line x1="274.2" y1="22.4" x2="291.8" y2="22.4" stroke="#0000ff" stroke-width="2.3"/>
<text x="293.4" y="25.7" font-family="'Liberation Serif', 'DejaVu Serif', serif" font-size="10.45" text-anchor="start" fill="#222" >COVID-19</text>
<line x1="274.2" y1="34.9" x2="291.8" y2="34.9" stroke="#ff0000" stroke-width="2.3"/>
<text x="293.4" y="38.2" font-family="'Liberation Serif', 'DejaVu Serif', serif" font-size="10.45" text-anchor="start" fill="#222" >Influenza</text>
<line x1="274.2" y1="47.4" x2="291.8" y2="47.4" stroke="#ff00ff" stroke-width="2.3"/>
<text x="293.4" y="50.7" font-family="'Liberation Serif', 'DejaVu Serif', serif" font-size="10.45" text-anchor="start" fill="#222" >Coinfection</text>
<text x="189.7" y="282.6" font-family="'Liberation Serif', 'DejaVu Serif', serif" font-size="14.5" text-anchor="middle" fill="#2a2a2a" textLength="73.5" lengthAdjust="spacing">Time (days)</text>
<text transform="translate(9.9 133.4) rotate(-90)" font-family="'Liberation Serif', 'DejaVu Serif', serif" font-size="14.3" text-anchor="middle" fill="#2a2a2a" textLength="153.2" lengthAdjust="spacing">Total infected individuals</text>
<text x="179.5" y="311.2" font-family="'Liberation Serif', 'DejaVu Serif', serif" font-size="18.0" text-anchor="middle" fill="#2a2a2a" textLength="20.0" lengthAdjust="spacing">(a)</text>
<rect x="32.5" y="358.75" width="314.05" height="238.7" fill="#fff" stroke="#b2b2b2" stroke-width="1"/>
<line x1="32.5" y1="597.45" x2="32.5" y2="594.25" stroke="#b2b2b2" stroke-width="1"/>
<line x1="32.5" y1="358.75" x2="32.5" y2="361.95" stroke="#b2b2b2" stroke-width="1"/>
<text x="32.7" y="612.75" font-family="'Liberation Sans', 'DejaVu Sans', sans-serif" font-size="11.0" text-anchor="middle" fill="#262626" >0</text>
<line x1="76.12" y1="597.45" x2="76.12" y2="594.25" stroke="#b2b2b2" stroke-width="1"/>
<line x1="76.12" y1="358.75" x2="76.12" y2="361.95" stroke="#b2b2b2" stroke-width="1"/>
<text x="76.32" y="612.75" font-family="'Liberation Sans', 'DejaVu Sans', sans-serif" font-size="11.0" text-anchor="middle" fill="#262626" >50</text>
<line x1="119.74" y1="597.45" x2="119.74" y2="594.25" stroke="#b2b2b2" stroke-width="1"/>
<line x1="119.74" y1="358.75" x2="119.74" y2="361.95" stroke="#b2b2b2" stroke-width="1"/>
<text x="119.94" y="612.75" font-family="'Liberation Sans', 'DejaVu Sans', sans-serif" font-size="11.0" text-anchor="middle" fill="#262626" >100</text>
<line x1="163.35" y1="597.45" x2="163.35" y2="594.25" stroke="#b2b2b2" stroke-width="1"/>
<line x1="163.35" y1="358.75" x2="163.35" y2="361.95" stroke="#b2b2b2" stroke-width="1"/>
<text x="163.55" y="612.75" font-family="'Liberation Sans', 'DejaVu Sans', sans-serif" font-size="11.0" text-anchor="middle" fill="#262626" >150</text>
<line x1="206.97" y1="597.45" x2="206.97" y2="594.25" stroke="#b2b2b2" stroke-width="1"/>
<line x1="206.97" y1="358.75" x2="206.97" y2="361.95" stroke="#b2b2b2" stroke-width="1"/>
<text x="207.17" y="612.75" font-family="'Liberation Sans', 'DejaVu Sans', sans-serif" font-size="11.0" text-anchor="middle" fill="#262626" >200</text>
<line x1="250.59" y1="597.45" x2="250.59" y2="594.25" stroke="#b2b2b2" stroke-width="1"/>
<line x1="250.59" y1="358.75" x2="250.59" y2="361.95" stroke="#b2b2b2" stroke-width="1"/>
<text x="250.79" y="612.75" font-family="'Liberation Sans', 'DejaVu Sans', sans-serif" font-size="11.0" text-anchor="middle" fill="#262626" >250</text>
<line x1="294.21" y1="597.45" x2="294.21" y2="594.25" stroke="#b2b2b2" stroke-width="1"/>
<line x1="294.21" y1="358.75" x2="294.21" y2="361.95" stroke="#b2b2b2" stroke-width="1"/>
<text x="294.41" y="612.75" font-family="'Liberation Sans', 'DejaVu Sans', sans-serif" font-size="11.0" text-anchor="middle" fill="#262626" >300</text>
<line x1="337.83" y1="597.45" x2="337.83" y2="594.25" stroke="#b2b2b2" stroke-width="1"/>
<line x1="337.83" y1="358.75" x2="337.83" y2="361.95" stroke="#b2b2b2" stroke-width="1"/>
<text x="338.03" y="612.75" font-family="'Liberation Sans', 'DejaVu Sans', sans-serif" font-size="11.0" text-anchor="middle" fill="#262626" >350</text>
<line x1="32.5" y1="597.45" x2="35.7" y2="597.45" stroke="#b2b2b2" stroke-width="1"/>
<line x1="346.55" y1="597.45" x2="343.35" y2="597.45" stroke="#b2b2b2" stroke-width="1"/>
<text x="29.3" y="602.35" font-family="'Liberation Sans', 'DejaVu Sans', sans-serif" font-size="11.0" text-anchor="end" fill="#262626" >0</text>
<line x1="32.5" y1="549.71" x2="35.7" y2="549.71" stroke="#b2b2b2" stroke-width="1"/>
<line x1="346.55" y1="549.71" x2="343.35" y2="549.71" stroke="#b2b2b2" stroke-width="1"/>
<text x="29.3" y="554.61" font-family="'Liberation Sans', 'DejaVu Sans', sans-serif" font-size="11.0" text-anchor="end" fill="#262626" >2</text>
<line x1="32.5" y1="501.97" x2="35.7" y2="501.97" stroke="#b2b2b2" stroke-width="1"/>
<line x1="346.55" y1="501.97" x2="343.35" y2="501.97" stroke="#b2b2b2" stroke-width="1"/>
<text x="29.3" y="506.87" font-family="'Liberation Sans', 'DejaVu Sans', sans-serif" font-size="11.0" text-anchor="end" fill="#262626" >4</text>
<line x1="32.5" y1="454.23" x2="35.7" y2="454.23" stroke="#b2b2b2" stroke-width="1"/>
<line x1="346.55" y1="454.23" x2="343.35" y2="454.23" stroke="#b2b2b2" stroke-width="1"/>
<text x="29.3" y="459.13" font-family="'Liberation Sans', 'DejaVu Sans', sans-serif" font-size="11.0" text-anchor="end" fill="#262626" >6</text>
<line x1="32.5" y1="406.49" x2="35.7" y2="406.49" stroke="#b2b2b2" stroke-width="1"/>
<line x1="346.55" y1="406.49" x2="343.35" y2="406.49" stroke="#b2b2b2" stroke-width="1"/>
<text x="29.3" y="411.39" font-family="'Liberation Sans', 'DejaVu Sans', sans-serif" font-size="11.0" text-anchor="end" fill="#262626" >8</text>
<line x1="32.5" y1="358.75" x2="35.7" y2="358.75" stroke="#b2b2b2" stroke-width="1"/>
<line x1="346.55" y1="358.75" x2="343.35" y2="358.75" stroke="#b2b2b2" stroke-width="1"/>
<text x="29.3" y="363.65" font-family="'Liberation Sans', 'DejaVu Sans', sans-serif" font-size="11.0" text-anchor="end" fill="#262626" >10</text>
<text x="33.3" y="356.75" font-family="'Liberation Sans', 'DejaVu Sans', sans-serif" font-size="11.1" fill="#262626"><tspan font-size="13" dy="1.0">×</tspan><tspan dx="1.3" dy="-1.0">10</tspan><tspan dy="-4.9" dx="0.3" font-size="9.2">5</tspan></text>
<clipPath id="clipc"><rect x="31.5" y="358.75" width="315.65" height="240.7"/></clipPath>
<g clip-path="url(#clipc)" fill="none" stroke-width="2.3" stroke-linejoin="round" stroke-linecap="butt">
<path d="M32.6 596.9 L33.73 596.75 L34.85 596.54 L35.96 596.27 L37.05 595.93 L38.13 595.53 L39.18 595.08 L40.22 594.58 L41.22 594.02 L42.2 593.41 L43.14 592.76 L44.05 592.07 L44.92 591.33 L45.76 590.56 L46.55 589.75 L47.29 588.91 L47.99 588.04 L48.65 587.13 L49.27 586.2 L49.85 585.25 L50.4 584.27 L50.91 583.27 L51.39 582.25 L51.85 581.21 L52.27 580.15 L52.68 579.08 L53.06 578 L53.42 576.91 L53.76 575.81 L54.09 574.7 L54.41 573.59 L54.71 572.48 L55.01 571.36 L55.3 570.24 L55.58 569.13 L55.86 568.01 L56.13 566.89 L56.39 565.78 L56.65 564.66 L56.9 563.54 L57.15 562.43 L57.39 561.31 L57.62 560.19 L57.85 559.07 L58.07 557.96 L58.29 556.84 L58.5 555.72 L58.71 554.6 L58.92 553.48 L59.12 552.36 L59.32 551.24 L59.51 550.12 L59.7 549 L59.88 547.88 L60.06 546.76 L60.24 545.64 L60.42 544.52 L60.59 543.39 L60.76 542.27 L60.93 541.15 L61.09 540.03 L61.25 538.9 L61.41 537.78 L61.57 536.65 L61.73 535.53 L61.88 534.4 L62.03 533.28 L62.18 532.15 L62.32 531.02 L62.47 529.9 L62.61 528.77 L62.75 527.64 L62.89 526.51 L63.03 525.39 L63.16 524.26 L63.29 523.13 L63.43 522 L63.56 520.87 L63.68 519.74 L63.81 518.61 L63.93 517.48 L64.06 516.35 L64.18 515.22 L64.3 514.09 L64.41 512.95 L64.53 511.82 L64.65 510.69 L64.76 509.56 L64.87 508.43 L64.99 507.29 L65.1 506.16 L65.21 505.03 L65.31 503.89 L65.42 502.76 L65.53 501.63 L65.63 500.49 L65.74 499.36 L65.84 498.22 L65.94 497.09 L66.04 495.96 L66.14 494.82 L66.24 493.69 L66.34 492.55 L66.44 491.42 L66.54 490.28 L66.64 489.15 L66.73 488.01 L66.83 486.88 L66.92 485.74 L67.02 484.6 L67.11 483.47 L67.21 482.33 L67.3 481.2 L67.4 480.06 L67.49 478.92 L67.59 477.79 L67.68 476.65 L67.77 475.52 L67.87 474.38 L67.96 473.24 L68.05 472.11 L68.15 470.97 L68.24 469.84 L68.33 468.7 L68.43 467.56 L68.52 466.43 L68.62 465.29 L68.71 464.16 L68.81 463.02 L68.9 461.89 L69 460.75 L69.1 459.61 L69.19 458.48 L69.29 457.34 L69.39 456.21 L69.49 455.07 L69.59 453.94 L69.69 452.8 L69.79 451.67 L69.89 450.53 L69.99 449.4 L70.1 448.26 L70.2 447.13 L70.31 446 L70.41 444.86 L70.52 443.73 L70.63 442.59 L70.74 441.46 L70.85 440.33 L70.97 439.19 L71.08 438.06 L71.19 436.93 L71.31 435.8 L71.43 434.66 L71.55 433.53 L71.67 432.4 L71.79 431.27 L71.92 430.14 L72.04 429.01 L72.17 427.88 L72.3 426.75 L72.43 425.62 L72.56 424.49 L72.69 423.36 L72.83 422.23 L72.97 421.1 L73.11 419.97 L73.25 418.84 L73.39 417.72 L73.54 416.59 L73.69 415.46 L73.84 414.33 L73.99 413.21 L74.15 412.08 L74.3 410.96 L74.46 409.83 L74.62 408.71 L74.79 407.58 L74.96 406.46 L75.12 405.33 L75.3 404.21 L75.47 403.09 L75.65 401.97 L75.83 400.84 L76.01 399.72 L76.19 398.6 L76.38 397.48 L76.57 396.36 L76.77 395.24 L76.98 394.13 L77.19 393.01 L77.4 391.89 L77.63 390.78 L77.86 389.67 L78.1 388.56 L78.35 387.45 L78.61 386.34 L78.88 385.24 L79.16 384.13 L79.46 383.03 L79.77 381.94 L80.09 380.84 L80.43 379.75 L80.79 378.66 L81.21 377.6 L81.71 376.56 L82.3 375.55 L83.05 374.73 L84.11 374.7 L85.04 375.25 L85.71 376.13 L86.23 377.19 L86.69 378.3 L87.13 379.39 L87.55 380.48 L87.96 381.55 L88.36 382.61 L88.75 383.67 L89.12 384.73 L89.49 385.78 L89.86 386.84 L90.22 387.9 L90.58 388.96 L90.94 390.02 L91.29 391.09 L91.64 392.16 L91.99 393.23 L92.33 394.31 L92.68 395.38 L93.02 396.46 L93.36 397.54 L93.7 398.63 L94.04 399.71 L94.38 400.8 L94.71 401.88 L95.05 402.97 L95.38 404.06 L95.71 405.15 L96.04 406.25 L96.38 407.34 L96.71 408.44 L97.04 409.53 L97.37 410.63 L97.7 411.72 L98.03 412.82 L98.37 413.91 L98.7 415.01 L99.03 416.11 L99.37 417.2 L99.7 418.3 L100.04 419.4 L100.38 420.49 L100.72 421.59 L101.06 422.68 L101.41 423.77 L101.75 424.87 L102.1 425.96 L102.45 427.05 L102.8 428.14 L103.16 429.22 L103.52 430.31 L103.88 431.39 L104.24 432.48 L104.61 433.56 L104.98 434.63 L105.35 435.71 L105.73 436.78 L106.11 437.86 L106.5 438.93 L106.89 439.99 L107.28 441.06 L107.68 442.12 L108.08 443.17 L108.5 444.23 L108.92 445.28 L109.34 446.32 L109.78 447.37 L110.23 448.4 L110.69 449.43 L111.16 450.46 L111.64 451.48 L112.14 452.49 L112.65 453.5 L113.18 454.5 L113.73 455.49 L114.29 456.48 L114.87 457.46 L115.47 458.43 L116.09 459.39 L116.73 460.35 L117.39 461.29 L118.08 462.22 L118.78 463.14 L119.5 464.05 L120.25 464.93 L121.01 465.8 L121.79 466.65 L122.6 467.48 L123.42 468.29 L124.26 469.07 L125.13 469.83 L126.01 470.55 L126.91 471.25 L127.82 471.92 L128.76 472.56 L129.72 473.16 L130.69 473.72 L131.68 474.25 L132.69 474.74 L133.72 475.19 L134.76 475.61 L135.82 475.98 L136.89 476.33 L137.97 476.63 L139.06 476.91 L140.17 477.15 L141.28 477.36 L142.4 477.54 L143.53 477.68 L144.66 477.8 L145.8 477.9 L146.94 477.96 L148.09 478 L149.23 478.01 L150.38 478 L151.52 477.96 L152.67 477.9 L153.81 477.82 L154.94 477.72 L156.07 477.6 L157.2 477.47 L158.33 477.31 L159.46 477.15 L160.58 476.97 L161.7 476.77 L162.82 476.57 L163.94 476.36 L165.06 476.14 L166.17 475.92 L167.29 475.69 L168.4 475.46 L169.52 475.23 L170.63 474.99 L171.75 474.76 L172.86 474.53 L173.98 474.3 L175.09 474.07 L176.21 473.84 L177.32 473.61 L178.44 473.39 L179.55 473.16 L180.67 472.94 L181.79 472.71 L182.9 472.49 L184.02 472.26 L185.13 472.04 L186.25 471.82 L187.37 471.59 L188.48 471.37 L189.6 471.15 L190.72 470.93 L191.84 470.71 L192.95 470.49 L194.07 470.28 L195.19 470.06 L196.3 469.84 L197.42 469.63 L198.54 469.41 L199.66 469.2 L200.78 468.98 L201.89 468.77 L203.01 468.56 L204.13 468.34 L205.25 468.13 L206.37 467.92 L207.49 467.71 L208.61 467.5 L209.73 467.29 L210.84 467.08 L211.96 466.87 L213.08 466.66 L214.2 466.46 L215.32 466.25 L216.44 466.04 L217.56 465.84 L218.68 465.63 L219.8 465.43 L220.92 465.22 L222.04 465.02 L223.16 464.82 L224.28 464.61 L225.4 464.41 L226.52 464.21 L227.64 464.01 L228.76 463.81 L229.88 463.61 L231.01 463.41 L232.13 463.21 L233.25 463.01 L234.37 462.81 L235.49 462.61 L236.61 462.42 L237.73 462.22 L238.85 462.02 L239.97 461.83 L241.1 461.63 L242.22 461.43 L243.34 461.24 L244.46 461.04 L245.58 460.85 L246.7 460.66 L247.83 460.46 L248.95 460.27 L250.07 460.08 L251.19 459.88 L252.32 459.69 L253.44 459.5 L254.56 459.31 L255.68 459.12 L256.8 458.93 L257.93 458.74 L259.05 458.55 L260.17 458.36 L261.3 458.17 L262.42 457.98 L263.54 457.79 L264.66 457.6 L265.79 457.41 L266.91 457.23 L268.03 457.04 L269.16 456.85 L270.28 456.66 L271.4 456.48 L272.52 456.29 L273.65 456.1 L274.77 455.92 L275.89 455.73 L277.02 455.55 L278.14 455.36 L279.26 455.18 L280.39 454.99 L281.51 454.81 L282.64 454.62 L283.76 454.44 L284.88 454.26 L286.01 454.07 L287.13 453.89 L288.25 453.71 L289.38 453.52 L290.5 453.34 L291.62 453.16 L292.75 452.97 L293.87 452.79 L295 452.61 L296.12 452.43 L297.24 452.24 L298.37 452.06 L299.49 451.88 L300.62 451.7 L301.74 451.52 L302.86 451.34 L303.99 451.16 L305.11 450.97 L306.24 450.79 L307.36 450.61 L308.48 450.43 L309.61 450.25 L310.73 450.07 L311.86 449.89 L312.98 449.71 L314.1 449.53 L315.23 449.35 L316.35 449.17 L317.48 448.99 L318.6 448.81 L319.72 448.63 L320.85 448.45 L321.97 448.27 L323.1 448.09 L324.22 447.91 L325.35 447.73 L326.47 447.55 L327.59 447.37 L328.72 447.19 L329.84 447.01 L330.97 446.83 L332.09 446.65 L333.21 446.47 L334.34 446.29 L335.46 446.11 L336.59 445.92 L337.71 445.74 L338.83 445.56 L339.96 445.38 L341.08 445.2 L342.2 445.02 L343.33 444.84 L344.45 444.66 L345.58 444.48 L346.7 444.3" stroke="#0000ff"/>
<path d="M32.6 597 L33.17 596.77 L33.75 596.55 L34.34 596.33 L34.94 596.12 L35.55 595.92 L36.16 595.73 L36.78 595.54 L37.41 595.35 L38.05 595.18 L38.69 595 L39.33 594.83 L39.98 594.66 L40.64 594.5 L41.3 594.34 L41.96 594.18 L42.63 594.02 L43.3 593.86 L43.97 593.71 L44.64 593.55 L45.31 593.39 L45.99 593.24 L46.66 593.08 L47.34 592.92 L48.01 592.75 L48.69 592.59 L49.36 592.42 L50.03 592.24 L50.7 592.07 L51.36 591.88 L52.03 591.7 L52.68 591.5 L53.34 591.3 L53.99 591.1 L54.63 590.88 L55.27 590.66 L55.9 590.43 L56.53 590.2 L57.15 589.95 L57.76 589.69 L58.37 589.43 L58.96 589.15 L59.55 588.86 L60.13 588.57 L60.7 588.25 L61.26 587.93 L61.81 587.6 L62.34 587.25 L62.87 586.88 L63.38 586.5 L63.89 586.11 L64.38 585.71 L64.85 585.29 L65.32 584.85 L65.78 584.41 L66.23 583.95 L66.67 583.48 L67.1 583 L67.52 582.51 L67.93 582.01 L68.34 581.5 L68.74 580.98 L69.13 580.45 L69.51 579.91 L69.89 579.37 L70.27 578.82 L70.64 578.27 L71.01 577.71 L71.37 577.14 L71.73 576.57 L72.09 575.99 L72.44 575.42 L72.79 574.83 L73.15 574.25 L73.5 573.66 L73.85 573.08 L74.2 572.49 L74.55 571.9 L74.9 571.31 L75.25 570.72 L75.61 570.13 L75.97 569.55 L76.33 568.97 L76.69 568.39 L77.06 567.81 L77.43 567.24 L77.81 566.67 L78.19 566.1 L78.58 565.55 L78.98 565 L79.38 564.46 L79.79 563.92 L80.22 563.41 L80.65 562.9 L81.1 562.41 L81.56 561.93 L82.03 561.47 L82.52 561.02 L83.02 560.6 L83.54 560.19 L84.08 559.81 L84.64 559.45 L85.21 559.11 L85.8 558.79 L86.41 558.51 L87.02 558.25 L87.65 558.01 L88.29 557.81 L88.93 557.64 L89.58 557.49 L90.24 557.38 L90.9 557.3 L91.57 557.26 L92.23 557.25 L92.89 557.27 L93.56 557.32 L94.22 557.39 L94.88 557.49 L95.54 557.6 L96.19 557.72 L96.84 557.86 L97.49 558.01 L98.13 558.17 L98.77 558.35 L99.41 558.53 L100.05 558.72 L100.69 558.92 L101.32 559.12 L101.95 559.34 L102.58 559.56 L103.21 559.78 L103.83 560.01 L104.46 560.25 L105.08 560.48 L105.71 560.72 L106.33 560.97 L106.95 561.21 L107.58 561.46 L108.2 561.7 L108.82 561.95 L109.45 562.19 L110.07 562.43 L110.69 562.67 L111.32 562.91 L111.94 563.14 L112.57 563.37 L113.2 563.6 L113.82 563.83 L114.45 564.05 L115.08 564.27 L115.71 564.49 L116.34 564.71 L116.97 564.92 L117.6 565.13 L118.23 565.34 L118.87 565.55 L119.5 565.75 L120.13 565.96 L120.77 566.15 L121.4 566.35 L122.04 566.55 L122.67 566.74 L123.31 566.93 L123.95 567.12 L124.59 567.3 L125.22 567.48 L125.86 567.67 L126.5 567.84 L127.14 568.02 L127.78 568.19 L128.42 568.37 L129.06 568.54 L129.71 568.7 L130.35 568.87 L130.99 569.03 L131.63 569.2 L132.28 569.36 L132.92 569.51 L133.57 569.67 L134.21 569.82 L134.86 569.97 L135.5 570.12 L136.15 570.27 L136.8 570.41 L137.45 570.56 L138.09 570.7 L138.74 570.84 L139.39 570.98 L140.04 571.11 L140.69 571.25 L141.34 571.38 L141.99 571.51 L142.64 571.64 L143.29 571.77 L143.95 571.89 L144.6 572.01 L145.25 572.14 L145.9 572.26 L146.56 572.37 L147.21 572.49 L147.87 572.61 L148.52 572.72 L149.17 572.83 L149.83 572.94 L150.49 573.05 L151.14 573.16 L151.8 573.26 L152.45 573.37 L153.11 573.47 L153.77 573.57 L154.43 573.67 L155.08 573.77 L155.74 573.86 L156.4 573.96 L157.06 574.05 L157.72 574.14 L158.38 574.23 L159.04 574.32 L159.7 574.41 L160.36 574.5 L161.02 574.58 L161.68 574.66 L162.34 574.75 L163 574.83 L163.66 574.91 L164.33 574.99 L164.99 575.06 L165.65 575.14 L166.31 575.22 L166.97 575.29 L167.64 575.36 L168.3 575.43 L168.96 575.51 L169.63 575.57 L170.29 575.64 L170.96 575.71 L171.62 575.78 L172.28 575.84 L172.95 575.91 L173.61 575.97 L174.28 576.03 L174.94 576.09 L175.61 576.15 L176.27 576.21 L176.94 576.27 L177.61 576.33 L178.27 576.38 L178.94 576.44 L179.6 576.49 L180.27 576.55 L180.94 576.6 L181.6 576.65 L182.27 576.7 L182.94 576.75 L183.6 576.8 L184.27 576.85 L184.94 576.9 L185.6 576.95 L186.27 577 L186.94 577.04 L187.61 577.09 L188.27 577.13 L188.94 577.18 L189.61 577.22 L190.28 577.27 L190.94 577.31 L191.61 577.35 L192.28 577.39 L192.95 577.43 L193.61 577.47 L194.28 577.51 L194.95 577.55 L195.62 577.59 L196.29 577.63 L196.95 577.67 L197.62 577.71 L198.29 577.75 L198.96 577.78 L199.62 577.82 L200.29 577.86 L200.96 577.89 L201.63 577.93 L202.29 577.96 L202.96 578 L203.63 578.03 L204.3 578.07 L204.96 578.1 L205.63 578.14 L206.3 578.17 L206.97 578.2 L207.63 578.24 L208.3 578.27 L208.97 578.31 L209.63 578.34 L210.3 578.37 L210.97 578.4 L211.63 578.44 L212.3 578.47 L212.97 578.5 L213.63 578.53 L214.3 578.57 L214.97 578.6 L215.63 578.63 L216.3 578.66 L216.97 578.69 L217.63 578.72 L218.3 578.75 L218.96 578.78 L219.63 578.82 L220.3 578.85 L220.96 578.88 L221.63 578.91 L222.29 578.94 L222.96 578.97 L223.63 578.99 L224.29 579.02 L224.96 579.05 L225.62 579.08 L226.29 579.11 L226.95 579.14 L227.62 579.17 L228.28 579.2 L228.95 579.22 L229.61 579.25 L230.28 579.28 L230.95 579.31 L231.61 579.34 L232.28 579.36 L232.94 579.39 L233.61 579.42 L234.27 579.44 L234.94 579.47 L235.6 579.5 L236.27 579.52 L236.93 579.55 L237.59 579.58 L238.26 579.6 L238.92 579.63 L239.59 579.65 L240.25 579.68 L240.92 579.7 L241.58 579.73 L242.25 579.75 L242.91 579.78 L243.58 579.8 L244.24 579.83 L244.91 579.85 L245.57 579.88 L246.23 579.9 L246.9 579.92 L247.56 579.95 L248.23 579.97 L248.89 579.99 L249.56 580.02 L250.22 580.04 L250.88 580.06 L251.55 580.09 L252.21 580.11 L252.88 580.13 L253.54 580.15 L254.2 580.17 L254.87 580.2 L255.53 580.22 L256.2 580.24 L256.86 580.26 L257.53 580.28 L258.19 580.3 L258.85 580.33 L259.52 580.35 L260.18 580.37 L260.85 580.39 L261.51 580.41 L262.17 580.43 L262.84 580.45 L263.5 580.47 L264.17 580.49 L264.83 580.51 L265.49 580.53 L266.16 580.55 L266.82 580.57 L267.49 580.59 L268.15 580.61 L268.81 580.62 L269.48 580.64 L270.14 580.66 L270.8 580.68 L271.47 580.7 L272.13 580.72 L272.8 580.73 L273.46 580.75 L274.12 580.77 L274.79 580.79 L275.45 580.81 L276.12 580.82 L276.78 580.84 L277.44 580.86 L278.11 580.87 L278.77 580.89 L279.44 580.91 L280.1 580.93 L280.77 580.94 L281.43 580.96 L282.09 580.97 L282.76 580.99 L283.42 581.01 L284.09 581.02 L284.75 581.04 L285.41 581.05 L286.08 581.07 L286.74 581.08 L287.41 581.1 L288.07 581.11 L288.74 581.13 L289.4 581.14 L290.06 581.16 L290.73 581.17 L291.39 581.19 L292.06 581.2 L292.72 581.22 L293.39 581.23 L294.05 581.24 L294.72 581.26 L295.38 581.27 L296.04 581.29 L296.71 581.3 L297.37 581.31 L298.04 581.33 L298.7 581.34 L299.37 581.35 L300.03 581.36 L300.7 581.38 L301.36 581.39 L302.03 581.4 L302.69 581.42 L303.36 581.43 L304.02 581.44 L304.69 581.45 L305.35 581.46 L306.02 581.48 L306.68 581.49 L307.35 581.5 L308.01 581.51 L308.68 581.52 L309.34 581.53 L310.01 581.54 L310.67 581.56 L311.34 581.57 L312.01 581.58 L312.67 581.59 L313.34 581.6 L314 581.61 L314.67 581.62 L315.33 581.63 L316 581.64 L316.67 581.65 L317.33 581.66 L318 581.67 L318.66 581.68 L319.33 581.69 L320 581.7 L320.66 581.71 L321.33 581.72 L322 581.73 L322.66 581.74 L323.33 581.74 L323.99 581.75 L324.66 581.76 L325.33 581.77 L325.99 581.78 L326.66 581.79 L327.33 581.8 L328 581.8 L328.66 581.81 L329.33 581.82 L330 581.83 L330.66 581.84 L331.33 581.85 L332 581.85 L332.67 581.86 L333.33 581.87 L334 581.88 L334.67 581.88 L335.34 581.89 L336 581.9 L336.67 581.9 L337.34 581.91 L338.01 581.92 L338.68 581.93 L339.34 581.93 L340.01 581.94 L340.68 581.95 L341.35 581.95 L342.02 581.96 L342.69 581.96 L343.36 581.97 L344.02 581.98 L344.69 581.98 L345.36 581.99 L346.03 581.99 L346.7 582" stroke="#ff0000"/>
<path d="M32.6 597.35 L33.24 597.32 L33.87 597.29 L34.51 597.27 L35.15 597.25 L35.79 597.23 L36.43 597.22 L37.07 597.21 L37.71 597.21 L38.35 597.21 L38.99 597.21 L39.63 597.22 L40.27 597.22 L40.91 597.23 L41.55 597.24 L42.19 597.26 L42.83 597.27 L43.48 597.28 L44.12 597.3 L44.76 597.32 L45.4 597.33 L46.05 597.35 L46.69 597.37 L47.33 597.38 L47.97 597.4 L48.62 597.41 L49.26 597.42 L49.9 597.43 L50.54 597.44 L51.19 597.45 L51.83 597.46 L52.47 597.46 L53.11 597.46 L53.76 597.46 L54.4 597.45 L55.04 597.44 L55.68 597.42 L56.32 597.41 L56.96 597.38 L57.6 597.36 L58.24 597.33 L58.88 597.29 L59.52 597.25 L60.16 597.2 L60.8 597.15 L61.44 597.09 L62.08 597.02 L62.72 596.95 L63.36 596.87 L63.99 596.78 L64.63 596.69 L65.26 596.58 L65.89 596.47 L66.52 596.34 L67.14 596.19 L67.76 596.03 L68.37 595.85 L68.98 595.65 L69.57 595.44 L70.16 595.2 L70.74 594.94 L71.31 594.66 L71.88 594.37 L72.43 594.06 L72.98 593.74 L73.52 593.4 L74.05 593.05 L74.58 592.7 L75.09 592.33 L75.6 591.96 L76.11 591.58 L76.61 591.19 L77.11 590.79 L77.61 590.39 L78.11 589.99 L78.61 589.59 L79.11 589.18 L79.61 588.77 L80.11 588.36 L80.62 587.95 L81.12 587.54 L81.63 587.14 L82.14 586.74 L82.66 586.34 L83.18 585.96 L83.7 585.58 L84.23 585.21 L84.77 584.85 L85.3 584.5 L85.85 584.16 L86.4 583.84 L86.96 583.53 L87.52 583.23 L88.09 582.95 L88.67 582.69 L89.26 582.45 L89.86 582.23 L90.46 582.03 L91.07 581.86 L91.7 581.7 L92.33 581.57 L92.97 581.47 L93.61 581.39 L94.26 581.34 L94.9 581.32 L95.55 581.33 L96.19 581.37 L96.83 581.43 L97.46 581.51 L98.09 581.61 L98.72 581.73 L99.34 581.87 L99.96 582.02 L100.57 582.19 L101.19 582.37 L101.79 582.56 L102.4 582.77 L103 582.98 L103.61 583.19 L104.21 583.42 L104.81 583.65 L105.41 583.88 L106.01 584.11 L106.61 584.35 L107.21 584.58 L107.81 584.82 L108.41 585.04 L109.02 585.27 L109.62 585.49 L110.23 585.71 L110.84 585.92 L111.45 586.12 L112.06 586.32 L112.67 586.52 L113.28 586.71 L113.9 586.9 L114.52 587.08 L115.13 587.26 L115.75 587.43 L116.37 587.59 L116.99 587.75 L117.61 587.91 L118.24 588.06 L118.86 588.2 L119.48 588.34 L120.11 588.47 L120.74 588.6 L121.36 588.72 L121.99 588.84 L122.62 588.96 L123.25 589.06 L123.88 589.17 L124.51 589.27 L125.14 589.37 L125.78 589.46 L126.41 589.55 L127.04 589.63 L127.68 589.71 L128.31 589.79 L128.95 589.86 L129.58 589.94 L130.22 590 L130.85 590.07 L131.49 590.13 L132.13 590.2 L132.77 590.25 L133.41 590.31 L134.04 590.37 L134.68 590.42 L135.32 590.47 L135.96 590.52 L136.6 590.57 L137.24 590.61 L137.88 590.66 L138.52 590.7 L139.16 590.75 L139.8 590.79 L140.44 590.84 L141.08 590.88 L141.72 590.92 L142.36 590.96 L143 591 L143.64 591.04 L144.28 591.09 L144.92 591.13 L145.56 591.17 L146.2 591.2 L146.84 591.24 L147.48 591.28 L148.12 591.32 L148.76 591.36 L149.4 591.4 L150.04 591.43 L150.68 591.47 L151.32 591.51 L151.96 591.54 L152.6 591.58 L153.24 591.61 L153.88 591.65 L154.52 591.68 L155.16 591.71 L155.8 591.75 L156.44 591.78 L157.08 591.81 L157.72 591.85 L158.36 591.88 L159 591.91 L159.64 591.94 L160.28 591.97 L160.92 592 L161.56 592.03 L162.2 592.06 L162.84 592.09 L163.48 592.12 L164.12 592.15 L164.76 592.18 L165.4 592.21 L166.04 592.24 L166.68 592.26 L167.32 592.29 L167.96 592.32 L168.6 592.34 L169.24 592.37 L169.88 592.4 L170.52 592.42 L171.16 592.45 L171.8 592.47 L172.44 592.5 L173.08 592.52 L173.72 592.54 L174.36 592.57 L175 592.59 L175.64 592.61 L176.28 592.64 L176.92 592.66 L177.56 592.68 L178.2 592.7 L178.84 592.72 L179.48 592.74 L180.12 592.77 L180.76 592.79 L181.41 592.81 L182.05 592.83 L182.69 592.85 L183.33 592.87 L183.97 592.88 L184.61 592.9 L185.25 592.92 L185.89 592.94 L186.53 592.96 L187.17 592.98 L187.81 592.99 L188.45 593.01 L189.09 593.03 L189.73 593.04 L190.37 593.06 L191.01 593.08 L191.65 593.09 L192.29 593.11 L192.93 593.12 L193.57 593.14 L194.21 593.15 L194.85 593.17 L195.49 593.18 L196.13 593.2 L196.78 593.21 L197.42 593.22 L198.06 593.24 L198.7 593.25 L199.34 593.26 L199.98 593.27 L200.62 593.29 L201.26 593.3 L201.9 593.31 L202.54 593.32 L203.18 593.33 L203.82 593.35 L204.46 593.36 L205.1 593.37 L205.74 593.38 L206.38 593.39 L207.02 593.4 L207.66 593.41 L208.31 593.42 L208.95 593.43 L209.59 593.44 L210.23 593.45 L210.87 593.46 L211.51 593.46 L212.15 593.47 L212.79 593.48 L213.43 593.49 L214.07 593.5 L214.71 593.51 L215.35 593.51 L215.99 593.52 L216.63 593.53 L217.27 593.53 L217.91 593.54 L218.56 593.55 L219.2 593.55 L219.84 593.56 L220.48 593.57 L221.12 593.57 L221.76 593.58 L222.4 593.58 L223.04 593.59 L223.68 593.6 L224.32 593.6 L224.96 593.61 L225.6 593.61 L226.24 593.62 L226.88 593.62 L227.52 593.62 L228.17 593.63 L228.81 593.63 L229.45 593.64 L230.09 593.64 L230.73 593.65 L231.37 593.65 L232.01 593.65 L232.65 593.66 L233.29 593.66 L233.93 593.66 L234.57 593.66 L235.21 593.67 L235.85 593.67 L236.49 593.67 L237.14 593.68 L237.78 593.68 L238.42 593.68 L239.06 593.68 L239.7 593.68 L240.34 593.69 L240.98 593.69 L241.62 593.69 L242.26 593.69 L242.9 593.69 L243.54 593.69 L244.18 593.7 L244.82 593.7 L245.47 593.7 L246.11 593.7 L246.75 593.7 L247.39 593.7 L248.03 593.7 L248.67 593.7 L249.31 593.7 L249.95 593.7 L250.59 593.7 L251.23 593.7 L251.87 593.71 L252.51 593.71 L253.16 593.71 L253.8 593.71 L254.44 593.71 L255.08 593.71 L255.72 593.71 L256.36 593.71 L257 593.71 L257.64 593.71 L258.28 593.71 L258.92 593.71 L259.56 593.7 L260.2 593.7 L260.84 593.7 L261.49 593.7 L262.13 593.7 L262.77 593.7 L263.41 593.7 L264.05 593.7 L264.69 593.7 L265.33 593.7 L265.97 593.7 L266.61 593.7 L267.25 593.7 L267.89 593.7 L268.53 593.7 L269.18 593.7 L269.82 593.7 L270.46 593.69 L271.1 593.69 L271.74 593.69 L272.38 593.69 L273.02 593.69 L273.66 593.69 L274.3 593.69 L274.94 593.69 L275.58 593.69 L276.22 593.69 L276.86 593.69 L277.51 593.69 L278.15 593.68 L278.79 593.68 L279.43 593.68 L280.07 593.68 L280.71 593.68 L281.35 593.68 L281.99 593.68 L282.63 593.68 L283.27 593.68 L283.91 593.68 L284.55 593.68 L285.2 593.68 L285.84 593.68 L286.48 593.68 L287.12 593.68 L287.76 593.68 L288.4 593.68 L289.04 593.68 L289.68 593.68 L290.32 593.68 L290.96 593.68 L291.6 593.67 L292.24 593.68 L292.88 593.68 L293.53 593.68 L294.17 593.68 L294.81 593.68 L295.45 593.68 L296.09 593.68 L296.73 593.68 L297.37 593.68 L298.01 593.68 L298.65 593.68 L299.29 593.68 L299.93 593.68 L300.57 593.68 L301.21 593.68 L301.86 593.68 L302.5 593.68 L303.14 593.69 L303.78 593.69 L304.42 593.69 L305.06 593.69 L305.7 593.69 L306.34 593.69 L306.98 593.7 L307.62 593.7 L308.26 593.7 L308.9 593.7 L309.54 593.7 L310.19 593.71 L310.83 593.71 L311.47 593.71 L312.11 593.71 L312.75 593.72 L313.39 593.72 L314.03 593.72 L314.67 593.73 L315.31 593.73 L315.95 593.73 L316.59 593.74 L317.23 593.74 L317.87 593.75 L318.51 593.75 L319.15 593.75 L319.8 593.76 L320.44 593.76 L321.08 593.77 L321.72 593.77 L322.36 593.78 L323 593.78 L323.64 593.79 L324.28 593.79 L324.92 593.8 L325.56 593.8 L326.2 593.81 L326.84 593.82 L327.48 593.82 L328.12 593.83 L328.76 593.84 L329.41 593.84 L330.05 593.85 L330.69 593.86 L331.33 593.86 L331.97 593.87 L332.61 593.88 L333.25 593.89 L333.89 593.9 L334.53 593.9 L335.17 593.91 L335.81 593.92 L336.45 593.93 L337.09 593.94 L337.73 593.95 L338.37 593.96 L339.01 593.97 L339.65 593.98 L340.29 593.99 L340.94 594 L341.58 594.01 L342.22 594.02 L342.86 594.03 L343.5 594.04 L344.14 594.05 L344.78 594.06 L345.42 594.08 L346.06 594.09 L346.7 594.1" stroke="#ff00ff"/>
</g>
<rect x="124.4" y="368.6" width="80.9" height="59.5" fill="#fff" stroke="#b2b2b2" stroke-width="0.8"/>
<line x1="124.4" y1="428.1" x2="124.4" y2="426.5" stroke="#b2b2b2" stroke-width="0.7"/>
<line x1="124.4" y1="368.6" x2="124.4" y2="370.2" stroke="#b2b2b2" stroke-width="0.7"/>
<text x="124.4" y="436.6" font-family="'Liberation Sans', 'DejaVu Sans', sans-serif" font-size="6.3" text-anchor="middle" fill="#111" >0</text>
<line x1="151.37" y1="428.1" x2="151.37" y2="426.5" stroke="#b2b2b2" stroke-width="0.7"/>
<line x1="151.37" y1="368.6" x2="151.37" y2="370.2" stroke="#b2b2b2" stroke-width="0.7"/>
<text x="151.37" y="436.6" font-family="'Liberation Sans', 'DejaVu Sans', sans-serif" font-size="6.3" text-anchor="middle" fill="#111" >10</text>
<line x1="178.33" y1="428.1" x2="178.33" y2="426.5" stroke="#b2b2b2" stroke-width="0.7"/>
<line x1="178.33" y1="368.6" x2="178.33" y2="370.2" stroke="#b2b2b2" stroke-width="0.7"/>
<text x="178.33" y="436.6" font-family="'Liberation Sans', 'DejaVu Sans', sans-serif" font-size="6.3" text-anchor="middle" fill="#111" >20</text>
<line x1="205.3" y1="428.1" x2="205.3" y2="426.5" stroke="#b2b2b2" stroke-width="0.7"/>
<line x1="205.3" y1="368.6" x2="205.3" y2="370.2" stroke="#b2b2b2" stroke-width="0.7"/>
<text x="205.3" y="436.6" font-family="'Liberation Sans', 'DejaVu Sans', sans-serif" font-size="6.3" text-anchor="middle" fill="#111" >30</text>
<line x1="124.4" y1="428.1" x2="126" y2="428.1" stroke="#b2b2b2" stroke-width="0.7"/>
<line x1="205.3" y1="428.1" x2="203.7" y2="428.1" stroke="#b2b2b2" stroke-width="0.7"/>
<text x="122.4" y="430.4" font-family="'Liberation Sans', 'DejaVu Sans', sans-serif" font-size="6.3" text-anchor="end" fill="#111" >0</text>
<line x1="124.4" y1="408.27" x2="126" y2="408.27" stroke="#b2b2b2" stroke-width="0.7"/>
<line x1="205.3" y1="408.27" x2="203.7" y2="408.27" stroke="#b2b2b2" stroke-width="0.7"/>
<text x="122.4" y="410.57" font-family="'Liberation Sans', 'DejaVu Sans', sans-serif" font-size="6.3" text-anchor="end" fill="#111" >1</text>
<line x1="124.4" y1="388.43" x2="126" y2="388.43" stroke="#b2b2b2" stroke-width="0.7"/>
<line x1="205.3" y1="388.43" x2="203.7" y2="388.43" stroke="#b2b2b2" stroke-width="0.7"/>
<text x="122.4" y="390.73" font-family="'Liberation Sans', 'DejaVu Sans', sans-serif" font-size="6.3" text-anchor="end" fill="#111" >2</text>
<line x1="124.4" y1="368.6" x2="126" y2="368.6" stroke="#b2b2b2" stroke-width="0.7"/>
<line x1="205.3" y1="368.6" x2="203.7" y2="368.6" stroke="#b2b2b2" stroke-width="0.7"/>
<text x="122.4" y="370.9" font-family="'Liberation Sans', 'DejaVu Sans', sans-serif" font-size="6.3" text-anchor="end" fill="#111" >3</text>
<text x="125.1" y="367.1" font-family="'Liberation Sans', 'DejaVu Sans', sans-serif" font-size="5.9" fill="#262626"><tspan font-size="6.6">×</tspan><tspan dx="0.2">10</tspan><tspan dy="-2.5" dx="0.1" font-size="4.9">5</tspan></text>
<clipPath id="iclipc"><rect x="124.1" y="368.6" width="81.8" height="61"/></clipPath>
<g clip-path="url(#iclipc)" fill="none" stroke-width="2.3" stroke-linejoin="round">
<path d="M124.4 427.3 L125.18 427.28 L125.97 427.25 L126.75 427.22 L127.54 427.19 L128.33 427.15 L129.12 427.11 L129.91 427.07 L130.71 427.03 L131.5 426.98 L132.29 426.93 L133.09 426.87 L133.89 426.81 L134.68 426.75 L135.48 426.68 L136.28 426.61 L137.08 426.54 L137.88 426.46 L138.67 426.38 L139.47 426.3 L140.27 426.21 L141.07 426.11 L141.87 426.02 L142.67 425.91 L143.47 425.81 L144.27 425.69 L145.07 425.58 L145.87 425.46 L146.67 425.33 L147.46 425.2 L148.26 425.07 L149.05 424.93 L149.85 424.79 L150.64 424.64 L151.43 424.48 L152.23 424.32 L153.02 424.16 L153.81 423.99 L154.59 423.81 L155.38 423.63 L156.16 423.44 L156.95 423.25 L157.73 423.05 L158.51 422.85 L159.29 422.64 L160.06 422.42 L160.83 422.2 L161.61 421.98 L162.38 421.74 L163.14 421.5 L163.91 421.26 L164.67 421.01 L165.43 420.75 L166.19 420.48 L166.94 420.21 L167.69 419.93 L168.44 419.65 L169.19 419.36 L169.93 419.06 L170.67 418.75 L171.4 418.44 L172.14 418.12 L172.87 417.8 L173.59 417.46 L174.32 417.12 L175.03 416.78 L175.75 416.42 L176.46 416.06 L177.17 415.69 L177.87 415.31 L178.57 414.93 L179.27 414.53 L179.96 414.14 L180.64 413.73 L181.33 413.31 L182 412.89 L182.68 412.46 L183.34 412.03 L184.01 411.58 L184.66 411.13 L185.31 410.67 L185.96 410.21 L186.6 409.73 L187.24 409.25 L187.86 408.77 L188.49 408.27 L189.1 407.77 L189.72 407.26 L190.32 406.74 L190.92 406.22 L191.51 405.69 L192.1 405.15 L192.67 404.61 L193.25 404.05 L193.81 403.49 L194.37 402.93 L194.92 402.35 L195.46 401.77 L196 401.18 L196.52 400.59 L197.04 399.98 L197.56 399.37 L198.06 398.76 L198.56 398.13 L199.04 397.5 L199.52 396.86 L200 396.22 L200.46 395.57 L200.91 394.91 L201.36 394.24 L201.79 393.57 L202.22 392.89 L202.64 392.2 L203.05 391.51 L203.45 390.81 L203.84 390.1 L204.22 389.39 L204.59 388.66 L204.95 387.94 L205.3 387.2" stroke="#0000ff"/>
<path d="M124.4 427.3 L125.08 427.24 L125.76 427.18 L126.44 427.13 L127.12 427.07 L127.8 427.01 L128.48 426.95 L129.16 426.89 L129.84 426.84 L130.52 426.78 L131.2 426.72 L131.88 426.66 L132.56 426.6 L133.24 426.55 L133.92 426.49 L134.6 426.43 L135.28 426.37 L135.96 426.31 L136.64 426.26 L137.32 426.2 L138 426.14 L138.68 426.08 L139.36 426.02 L140.04 425.97 L140.72 425.91 L141.4 425.85 L142.08 425.79 L142.76 425.73 L143.44 425.68 L144.12 425.62 L144.79 425.56 L145.47 425.5 L146.15 425.44 L146.83 425.39 L147.51 425.33 L148.19 425.27 L148.87 425.21 L149.55 425.15 L150.23 425.1 L150.91 425.04 L151.59 424.98 L152.27 424.92 L152.95 424.86 L153.63 424.81 L154.31 424.75 L154.99 424.69 L155.67 424.63 L156.35 424.57 L157.03 424.52 L157.71 424.46 L158.39 424.4 L159.07 424.34 L159.75 424.28 L160.43 424.23 L161.11 424.17 L161.79 424.11 L162.47 424.05 L163.15 423.99 L163.83 423.94 L164.51 423.88 L165.19 423.82 L165.87 423.76 L166.55 423.71 L167.23 423.65 L167.91 423.59 L168.59 423.53 L169.27 423.47 L169.95 423.42 L170.63 423.36 L171.31 423.3 L171.99 423.24 L172.67 423.18 L173.35 423.13 L174.03 423.07 L174.71 423.01 L175.39 422.95 L176.07 422.89 L176.75 422.84 L177.43 422.78 L178.11 422.72 L178.79 422.66 L179.47 422.6 L180.15 422.55 L180.83 422.49 L181.51 422.43 L182.19 422.37 L182.87 422.31 L183.55 422.26 L184.23 422.2 L184.91 422.14 L185.58 422.08 L186.26 422.02 L186.94 421.97 L187.62 421.91 L188.3 421.85 L188.98 421.79 L189.66 421.73 L190.34 421.68 L191.02 421.62 L191.7 421.56 L192.38 421.5 L193.06 421.44 L193.74 421.39 L194.42 421.33 L195.1 421.27 L195.78 421.21 L196.46 421.15 L197.14 421.1 L197.82 421.04 L198.5 420.98 L199.18 420.92 L199.86 420.86 L200.54 420.81 L201.22 420.75 L201.9 420.69 L202.58 420.63 L203.26 420.57 L203.94 420.52 L204.62 420.46 L205.3 420.4" stroke="#ff0000"/>
<path d="M124.4 427.7 L125.08 427.7 L125.76 427.69 L126.44 427.69 L127.12 427.69 L127.8 427.69 L128.48 427.68 L129.16 427.68 L129.84 427.68 L130.52 427.68 L131.2 427.67 L131.88 427.67 L132.56 427.67 L133.24 427.67 L133.92 427.66 L134.6 427.66 L135.28 427.66 L135.96 427.66 L136.64 427.65 L137.32 427.65 L138 427.65 L138.68 427.65 L139.36 427.64 L140.04 427.64 L140.72 427.64 L141.4 427.64 L142.08 427.63 L142.76 427.63 L143.44 427.63 L144.12 427.63 L144.79 427.62 L145.47 427.62 L146.15 427.62 L146.83 427.62 L147.51 427.61 L148.19 427.61 L148.87 427.61 L149.55 427.61 L150.23 427.6 L150.91 427.6 L151.59 427.6 L152.27 427.6 L152.95 427.59 L153.63 427.59 L154.31 427.59 L154.99 427.59 L155.67 427.58 L156.35 427.58 L157.03 427.58 L157.71 427.58 L158.39 427.57 L159.07 427.57 L159.75 427.57 L160.43 427.57 L161.11 427.56 L161.79 427.56 L162.47 427.56 L163.15 427.56 L163.83 427.55 L164.51 427.55 L165.19 427.55 L165.87 427.55 L166.55 427.54 L167.23 427.54 L167.91 427.54 L168.59 427.54 L169.27 427.53 L169.95 427.53 L170.63 427.53 L171.31 427.53 L171.99 427.52 L172.67 427.52 L173.35 427.52 L174.03 427.52 L174.71 427.51 L175.39 427.51 L176.07 427.51 L176.75 427.51 L177.43 427.5 L178.11 427.5 L178.79 427.5 L179.47 427.5 L180.15 427.49 L180.83 427.49 L181.51 427.49 L182.19 427.49 L182.87 427.48 L183.55 427.48 L184.23 427.48 L184.91 427.48 L185.58 427.47 L186.26 427.47 L186.94 427.47 L187.62 427.47 L188.3 427.46 L188.98 427.46 L189.66 427.46 L190.34 427.46 L191.02 427.45 L191.7 427.45 L192.38 427.45 L193.06 427.45 L193.74 427.44 L194.42 427.44 L195.1 427.44 L195.78 427.44 L196.46 427.43 L197.14 427.43 L197.82 427.43 L198.5 427.43 L199.18 427.42 L199.86 427.42 L200.54 427.42 L201.22 427.42 L201.9 427.41 L202.58 427.41 L203.26 427.41 L203.94 427.41 L204.62 427.4 L205.3 427.4" stroke="#ff00ff"/>
</g>
<rect x="273.2" y="360.5" width="72.1" height="38.8" fill="#fff" stroke="#b0b0b0" stroke-width="1"/>
<line x1="275" y1="367.4" x2="292.6" y2="367.4" stroke="#0000ff" stroke-width="2.3"/>
<text x="294.2" y="370.7" font-family="'Liberation Serif', 'DejaVu Serif', serif" font-size="10.45" text-anchor="start" fill="#222" >COVID-19</text>
<line x1="275" y1="379.9" x2="292.6" y2="379.9" stroke="#ff0000" stroke-width="2.3"/>
<text x="294.2" y="383.2" font-family="'Liberation Serif', 'DejaVu Serif', serif" font-size="10.45" text-anchor="start" fill="#222" >Influenza</text>
<line x1="275" y1="392.4" x2="292.6" y2="392.4" stroke="#ff00ff" stroke-width="2.3"/>
<text x="294.2" y="395.7" font-family="'Liberation Serif', 'DejaVu Serif', serif" font-size="10.45" text-anchor="start" fill="#222" >Coinfection</text>
<text x="189.7" y="627.3" font-family="'Liberation Serif', 'DejaVu Serif', serif" font-size="14.5" text-anchor="middle" fill="#2a2a2a" textLength="73.5" lengthAdjust="spacing">Time (days)</text>
<text transform="translate(9.9 477.8) rotate(-90)" font-family="'Liberation Serif', 'DejaVu Serif', serif" font-size="14.3" text-anchor="middle" fill="#2a2a2a" textLength="153.2" lengthAdjust="spacing">Total infected individuals</text>
<text x="179.5" y="655.6" font-family="'Liberation Serif', 'DejaVu Serif', serif" font-size="18.0" text-anchor="middle" fill="#2a2a2a" textLength="20.0" lengthAdjust="spacing">(c)</text>
<rect x="456.5" y="14.45" width="314" height="240.65" fill="#fff" stroke="#b2b2b2" stroke-width="1"/>
<line x1="456.5" y1="255.1" x2="459.9" y2="255.1" stroke="#b2b2b2" stroke-width="0.9"/>
<line x1="770.5" y1="255.1" x2="767.1" y2="255.1" stroke="#b2b2b2" stroke-width="0.9"/>
<text x="454.2" y="257.1" font-family="'Liberation Sans', 'DejaVu Sans', sans-serif" font-size="5.8" text-anchor="end" fill="#111" >0</text>
<line x1="456.5" y1="220.72" x2="459.9" y2="220.72" stroke="#b2b2b2" stroke-width="0.9"/>
<line x1="770.5" y1="220.72" x2="767.1" y2="220.72" stroke="#b2b2b2" stroke-width="0.9"/>
<text x="454.2" y="222.72" font-family="'Liberation Sans', 'DejaVu Sans', sans-serif" font-size="5.8" text-anchor="end" fill="#111" >1</text>
<line x1="456.5" y1="186.34" x2="459.9" y2="186.34" stroke="#b2b2b2" stroke-width="0.9"/>
<line x1="770.5" y1="186.34" x2="767.1" y2="186.34" stroke="#b2b2b2" stroke-width="0.9"/>
<text x="454.2" y="188.34" font-family="'Liberation Sans', 'DejaVu Sans', sans-serif" font-size="5.8" text-anchor="end" fill="#111" >2</text>
<line x1="456.5" y1="151.96" x2="459.9" y2="151.96" stroke="#b2b2b2" stroke-width="0.9"/>
<line x1="770.5" y1="151.96" x2="767.1" y2="151.96" stroke="#b2b2b2" stroke-width="0.9"/>
<text x="454.2" y="153.96" font-family="'Liberation Sans', 'DejaVu Sans', sans-serif" font-size="5.8" text-anchor="end" fill="#111" >3</text>
<line x1="456.5" y1="117.59" x2="459.9" y2="117.59" stroke="#b2b2b2" stroke-width="0.9"/>
<line x1="770.5" y1="117.59" x2="767.1" y2="117.59" stroke="#b2b2b2" stroke-width="0.9"/>
<text x="454.2" y="119.59" font-family="'Liberation Sans', 'DejaVu Sans', sans-serif" font-size="5.8" text-anchor="end" fill="#111" >4</text>
<line x1="456.5" y1="83.21" x2="459.9" y2="83.21" stroke="#b2b2b2" stroke-width="0.9"/>
<line x1="770.5" y1="83.21" x2="767.1" y2="83.21" stroke="#b2b2b2" stroke-width="0.9"/>
<text x="454.2" y="85.21" font-family="'Liberation Sans', 'DejaVu Sans', sans-serif" font-size="5.8" text-anchor="end" fill="#111" >5</text>
<line x1="456.5" y1="48.83" x2="459.9" y2="48.83" stroke="#b2b2b2" stroke-width="0.9"/>
<line x1="770.5" y1="48.83" x2="767.1" y2="48.83" stroke="#b2b2b2" stroke-width="0.9"/>
<text x="454.2" y="50.83" font-family="'Liberation Sans', 'DejaVu Sans', sans-serif" font-size="5.8" text-anchor="end" fill="#111" >6</text>
<line x1="456.5" y1="14.45" x2="459.9" y2="14.45" stroke="#b2b2b2" stroke-width="0.9"/>
<line x1="770.5" y1="14.45" x2="767.1" y2="14.45" stroke="#b2b2b2" stroke-width="0.9"/>
<text x="454.2" y="16.45" font-family="'Liberation Sans', 'DejaVu Sans', sans-serif" font-size="5.8" text-anchor="end" fill="#111" >7</text>
<text x="457.5" y="12.75" font-family="'Liberation Sans', 'DejaVu Sans', sans-serif" font-size="5.8" fill="#111"><tspan font-size="7.2" dy="0.5">×</tspan><tspan dx="0.5" dy="-0.5">10</tspan><tspan dy="-2.5" dx="0.15" font-size="4.9">5</tspan></text>
<rect x="514.1" y="14.65" width="56.85" height="240.15" fill="#0000ff" stroke="#20203a" stroke-opacity="0.5" stroke-width="0.45"/>
<line x1="456.5" y1="255.1" x2="770.5" y2="255.1" stroke="#b2b2b2" stroke-width="1"/>
<rect x="719.3" y="16.15" width="49.3" height="21" fill="#fff" stroke="#a4a4a4" stroke-width="0.9"/>
<rect x="721.2" y="18.05" width="17.9" height="4.7" fill="#0000ff" stroke="#333" stroke-opacity="0.7" stroke-width="0.4"/>
<text x="740.9" y="22.15" font-family="'Liberation Serif', 'DejaVu Serif', serif" font-size="5.4" text-anchor="start" fill="#222" >COVID-19</text>
<rect x="721.2" y="24.6" width="17.9" height="4.7" fill="#ff0000" stroke="#333" stroke-opacity="0.7" stroke-width="0.4"/>
<text x="740.9" y="28.7" font-family="'Liberation Serif', 'DejaVu Serif', serif" font-size="5.4" text-anchor="start" fill="#222" >Influenza</text>
<rect x="721.2" y="31.15" width="17.9" height="4.7" fill="#ff00ff" stroke="#333" stroke-opacity="0.7" stroke-width="0.4"/>
<text x="740.9" y="35.25" font-family="'Liberation Serif', 'DejaVu Serif', serif" font-size="5.4" text-anchor="start" fill="#222" >Coinfection</text>
<text x="613.9" y="270" font-family="'Liberation Serif', 'DejaVu Serif', serif" font-size="14.5" text-anchor="middle" fill="#2a2a2a" textLength="120.6" lengthAdjust="spacing">Infected population</text>
<text transform="translate(444.4 134.3) rotate(-90)" font-family="'Liberation Serif', 'DejaVu Serif', serif" font-size="14.4" text-anchor="middle" fill="#2a2a2a" textLength="199.6" lengthAdjust="spacing">Final size of infected individuals</text>
<text x="603.5" y="311.2" font-family="'Liberation Serif', 'DejaVu Serif', serif" font-size="18.0" text-anchor="middle" fill="#2a2a2a" textLength="20.4" lengthAdjust="spacing">(b)</text>
<rect x="456.5" y="358.75" width="314" height="241.15" fill="#fff" stroke="#b2b2b2" stroke-width="1"/>
<line x1="456.5" y1="599.9" x2="459.9" y2="599.9" stroke="#b2b2b2" stroke-width="0.9"/>
<line x1="770.5" y1="599.9" x2="767.1" y2="599.9" stroke="#b2b2b2" stroke-width="0.9"/>
<text x="454.2" y="601.9" font-family="'Liberation Sans', 'DejaVu Sans', sans-serif" font-size="5.8" text-anchor="end" fill="#111" >0</text>
<line x1="456.5" y1="565.45" x2="459.9" y2="565.45" stroke="#b2b2b2" stroke-width="0.9"/>
<line x1="770.5" y1="565.45" x2="767.1" y2="565.45" stroke="#b2b2b2" stroke-width="0.9"/>
<text x="454.2" y="567.45" font-family="'Liberation Sans', 'DejaVu Sans', sans-serif" font-size="5.8" text-anchor="end" fill="#111" >1</text>
<line x1="456.5" y1="531" x2="459.9" y2="531" stroke="#b2b2b2" stroke-width="0.9"/>
<line x1="770.5" y1="531" x2="767.1" y2="531" stroke="#b2b2b2" stroke-width="0.9"/>
<text x="454.2" y="533" font-family="'Liberation Sans', 'DejaVu Sans', sans-serif" font-size="5.8" text-anchor="end" fill="#111" >2</text>
<line x1="456.5" y1="496.55" x2="459.9" y2="496.55" stroke="#b2b2b2" stroke-width="0.9"/>
<line x1="770.5" y1="496.55" x2="767.1" y2="496.55" stroke="#b2b2b2" stroke-width="0.9"/>
<text x="454.2" y="498.55" font-family="'Liberation Sans', 'DejaVu Sans', sans-serif" font-size="5.8" text-anchor="end" fill="#111" >3</text>
<line x1="456.5" y1="462.1" x2="459.9" y2="462.1" stroke="#b2b2b2" stroke-width="0.9"/>
<line x1="770.5" y1="462.1" x2="767.1" y2="462.1" stroke="#b2b2b2" stroke-width="0.9"/>
<text x="454.2" y="464.1" font-family="'Liberation Sans', 'DejaVu Sans', sans-serif" font-size="5.8" text-anchor="end" fill="#111" >4</text>
<line x1="456.5" y1="427.65" x2="459.9" y2="427.65" stroke="#b2b2b2" stroke-width="0.9"/>
<line x1="770.5" y1="427.65" x2="767.1" y2="427.65" stroke="#b2b2b2" stroke-width="0.9"/>
<text x="454.2" y="429.65" font-family="'Liberation Sans', 'DejaVu Sans', sans-serif" font-size="5.8" text-anchor="end" fill="#111" >5</text>
<line x1="456.5" y1="393.2" x2="459.9" y2="393.2" stroke="#b2b2b2" stroke-width="0.9"/>
<line x1="770.5" y1="393.2" x2="767.1" y2="393.2" stroke="#b2b2b2" stroke-width="0.9"/>
<text x="454.2" y="395.2" font-family="'Liberation Sans', 'DejaVu Sans', sans-serif" font-size="5.8" text-anchor="end" fill="#111" >6</text>
<line x1="456.5" y1="358.75" x2="459.9" y2="358.75" stroke="#b2b2b2" stroke-width="0.9"/>
<line x1="770.5" y1="358.75" x2="767.1" y2="358.75" stroke="#b2b2b2" stroke-width="0.9"/>
<text x="454.2" y="360.75" font-family="'Liberation Sans', 'DejaVu Sans', sans-serif" font-size="5.8" text-anchor="end" fill="#111" >7</text>
<text x="457.5" y="357.05" font-family="'Liberation Sans', 'DejaVu Sans', sans-serif" font-size="5.8" fill="#111"><tspan font-size="7.2" dy="0.5">×</tspan><tspan dx="0.5" dy="-0.5">10</tspan><tspan dy="-2.5" dx="0.15" font-size="4.9">5</tspan></text>
<rect x="514.1" y="378.07" width="56.85" height="221.53" fill="#0000ff" stroke="#20203a" stroke-opacity="0.5" stroke-width="0.45"/>
<rect x="585.35" y="578.05" width="56.9" height="21.55" fill="#ff0000" stroke="#20203a" stroke-opacity="0.5" stroke-width="0.45"/>
<rect x="656.7" y="595.31" width="56.9" height="4.29" fill="#ff00ff" stroke="#20203a" stroke-opacity="0.5" stroke-width="0.45"/>
<line x1="456.5" y1="599.9" x2="770.5" y2="599.9" stroke="#b2b2b2" stroke-width="1"/>
<rect x="719.3" y="360.45" width="49.3" height="21" fill="#fff" stroke="#a4a4a4" stroke-width="0.9"/>
<rect x="721.2" y="362.35" width="17.9" height="4.7" fill="#0000ff" stroke="#333" stroke-opacity="0.7" stroke-width="0.4"/>
<text x="740.9" y="366.45" font-family="'Liberation Serif', 'DejaVu Serif', serif" font-size="5.4" text-anchor="start" fill="#222" >COVID-19</text>
<rect x="721.2" y="368.9" width="17.9" height="4.7" fill="#ff0000" stroke="#333" stroke-opacity="0.7" stroke-width="0.4"/>
<text x="740.9" y="373" font-family="'Liberation Serif', 'DejaVu Serif', serif" font-size="5.4" text-anchor="start" fill="#222" >Influenza</text>
<rect x="721.2" y="375.45" width="17.9" height="4.7" fill="#ff00ff" stroke="#333" stroke-opacity="0.7" stroke-width="0.4"/>
<text x="740.9" y="379.55" font-family="'Liberation Serif', 'DejaVu Serif', serif" font-size="5.4" text-anchor="start" fill="#222" >Coinfection</text>
<text x="613.9" y="614.6" font-family="'Liberation Serif', 'DejaVu Serif', serif" font-size="14.5" text-anchor="middle" fill="#2a2a2a" textLength="120.6" lengthAdjust="spacing">Infected population</text>
<text transform="translate(444.4 479.2) rotate(-90)" font-family="'Liberation Serif', 'DejaVu Serif', serif" font-size="14.4" text-anchor="middle" fill="#2a2a2a" textLength="199.6" lengthAdjust="spacing">Final size of infected individuals</text>
<text x="603.5" y="655.6" font-family="'Liberation Serif', 'DejaVu Serif', serif" font-size="18.0" text-anchor="middle" fill="#2a2a2a" textLength="20.4" lengthAdjust="spacing">(d)</text>
</svg>
</body>
</html>
